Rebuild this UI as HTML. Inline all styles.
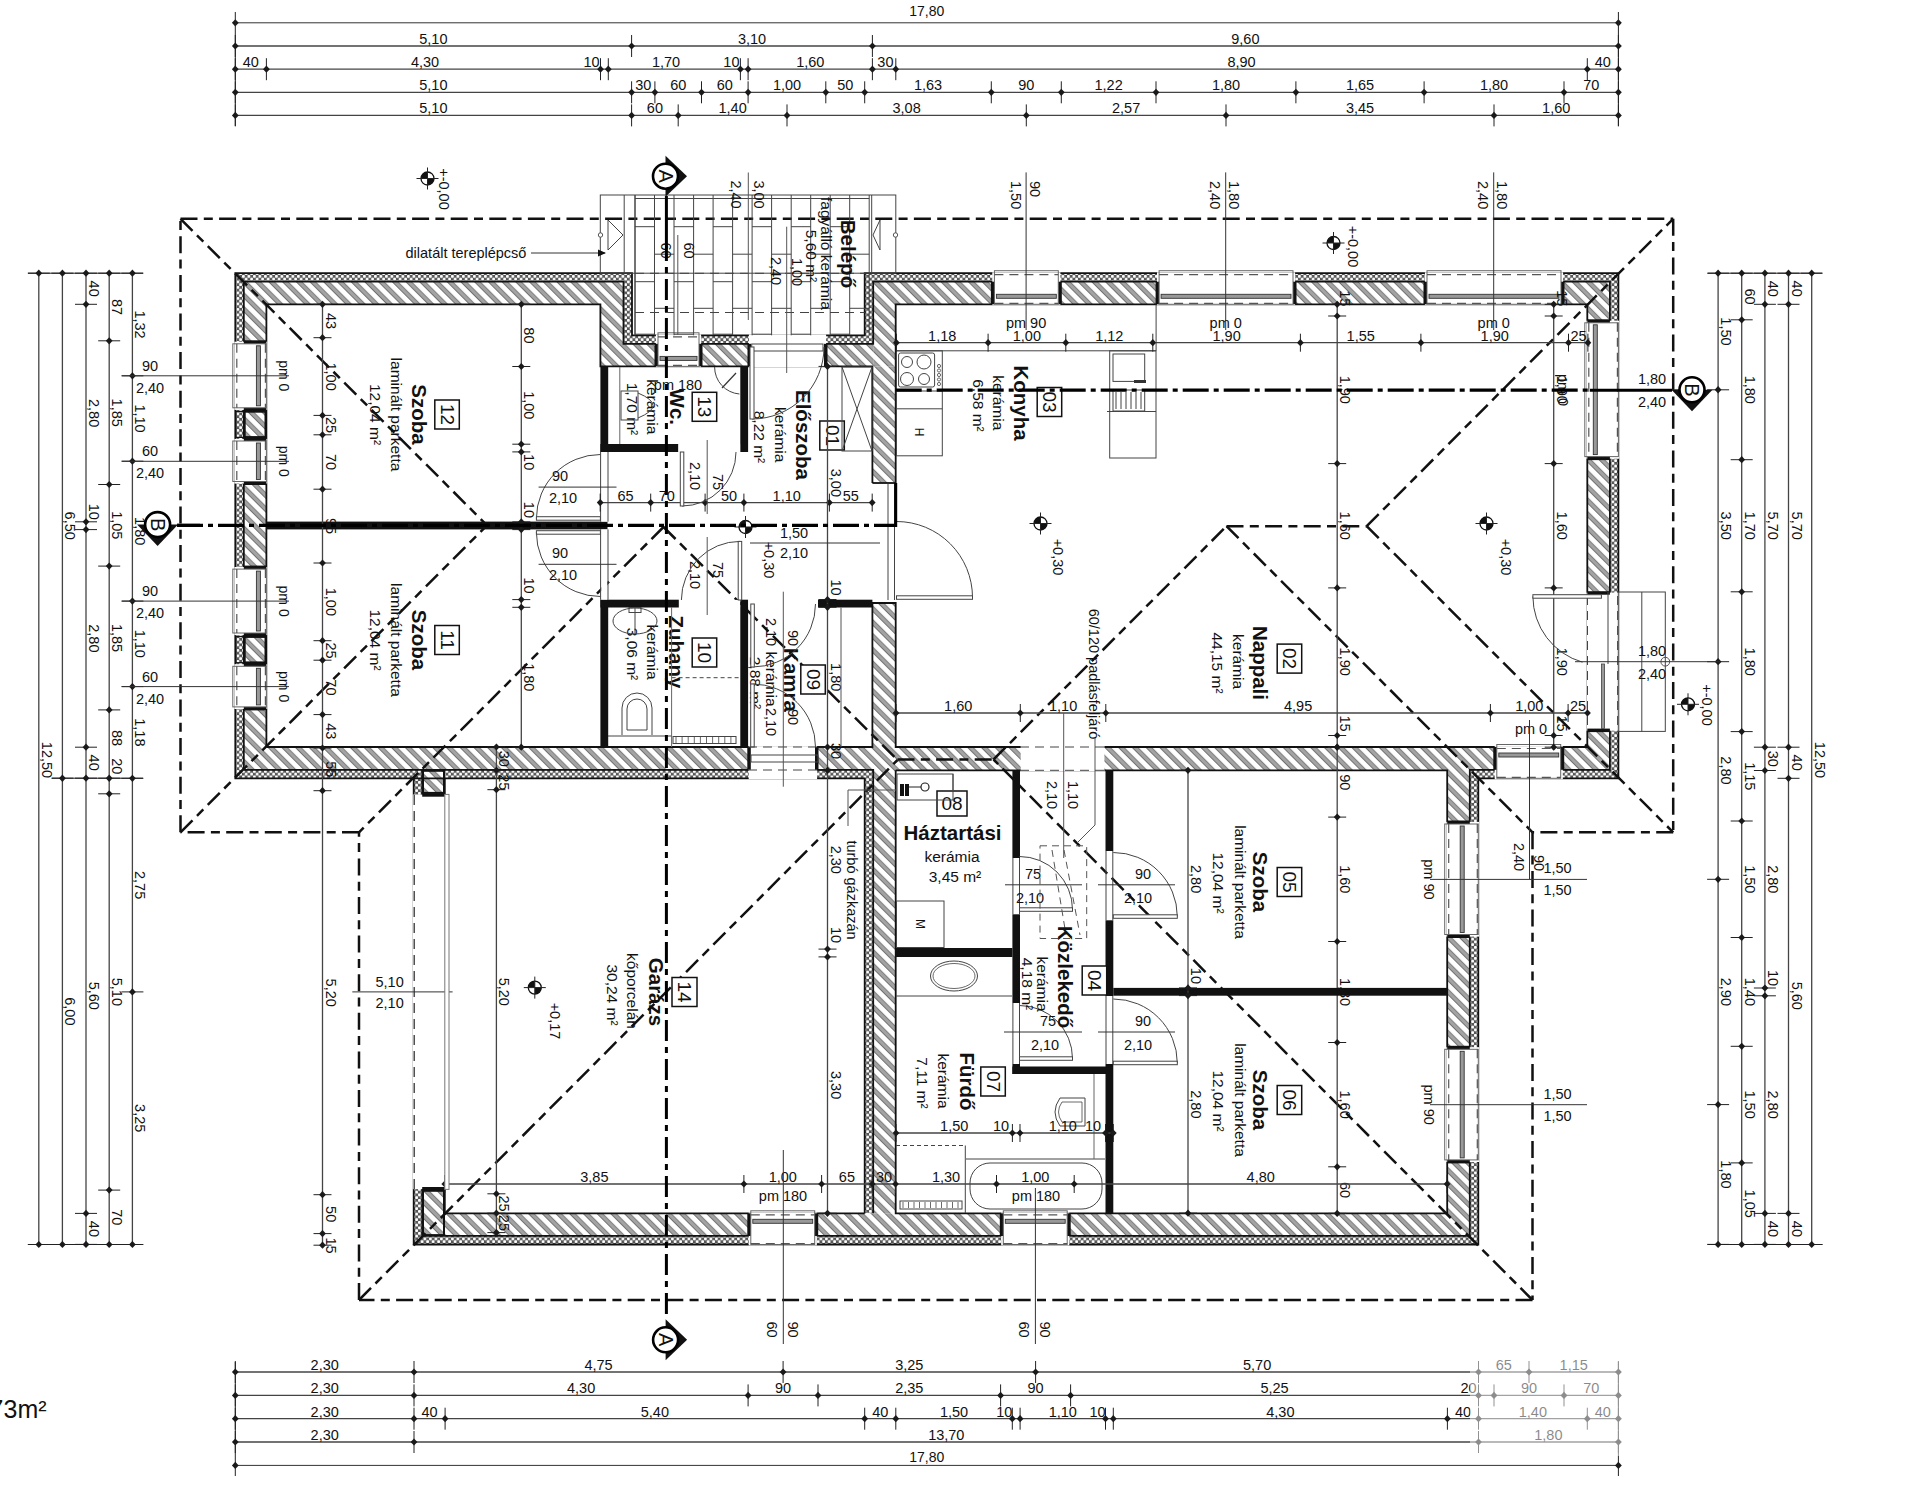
<!DOCTYPE html>
<html><head><meta charset="utf-8"><style>
html,body{margin:0;padding:0;background:#fff;}
svg{display:block;}
text{font-family:"Liberation Sans",sans-serif;}
</style></head><body>
<svg width="1920" height="1499" viewBox="0 0 1920 1499">
<defs>
<pattern id="hatch" patternUnits="userSpaceOnUse" width="9.7" height="9.7" patternTransform="rotate(-45)">
<rect width="9.7" height="9.7" fill="#fff"/><rect x="0" y="0" width="4.9" height="9.7" fill="#a3a3a3"/><rect x="0" y="0" width="0.8" height="9.7" fill="#666"/><rect x="4.1" y="0" width="0.8" height="9.7" fill="#777"/>
</pattern>
<pattern id="ins" patternUnits="userSpaceOnUse" width="5.5" height="5.5">
<rect width="5.5" height="5.5" fill="#555"/><circle cx="1.4" cy="1.4" r="1.5" fill="#fff"/><circle cx="4.1" cy="4.1" r="1.5" fill="#fff"/>
</pattern>
</defs>
<rect width="1920" height="1499" fill="#fff"/>
<line x1="235.3" y1="22.8" x2="1618.4" y2="22.8" stroke="#333" stroke-width="1.0" />
<path d="M231.9,22.8 L235.3,19.2 L238.7,22.8 L235.3,26.4 Z" fill="#1a1a1a"/>
<path d="M1615,22.8 L1618.4,19.2 L1621.8,22.8 L1618.4,26.4 Z" fill="#1a1a1a"/>
<text x="926.8" y="15.8" font-size="14" text-anchor="middle" fill="#111" >17,80</text>
<line x1="235.3" y1="12" x2="235.3" y2="126" stroke="#222" stroke-width="1.0" />
<line x1="1618.4" y1="12" x2="1618.4" y2="126" stroke="#222" stroke-width="1.0" />
<line x1="235.3" y1="46" x2="1618.4" y2="46" stroke="#444" stroke-width="1.3" />
<line x1="235.3" y1="35" x2="235.3" y2="57" stroke="#222" stroke-width="1.0" />
<path d="M231.9,46 L235.3,42.4 L238.7,46 L235.3,49.6 Z" fill="#1a1a1a"/>
<line x1="631.6" y1="35" x2="631.6" y2="57" stroke="#222" stroke-width="1.0" />
<path d="M628.2,46 L631.6,42.4 L635,46 L631.6,49.6 Z" fill="#1a1a1a"/>
<line x1="872.4" y1="35" x2="872.4" y2="57" stroke="#222" stroke-width="1.0" />
<path d="M869,46 L872.4,42.4 L875.8,46 L872.4,49.6 Z" fill="#1a1a1a"/>
<line x1="1618.4" y1="35" x2="1618.4" y2="57" stroke="#222" stroke-width="1.0" />
<path d="M1615,46 L1618.4,42.4 L1621.8,46 L1618.4,49.6 Z" fill="#1a1a1a"/>
<text x="433.4" y="44" font-size="14.5" text-anchor="middle" fill="#111" >5,10</text>
<text x="752" y="44" font-size="14.5" text-anchor="middle" fill="#111" >3,10</text>
<text x="1245.4" y="44" font-size="14.5" text-anchor="middle" fill="#111" >9,60</text>
<line x1="235.3" y1="69.2" x2="1618.4" y2="69.2" stroke="#444" stroke-width="1.3" />
<line x1="235.3" y1="58.2" x2="235.3" y2="80.2" stroke="#222" stroke-width="1.0" />
<path d="M231.9,69.2 L235.3,65.6 L238.7,69.2 L235.3,72.8 Z" fill="#1a1a1a"/>
<line x1="266.4" y1="58.2" x2="266.4" y2="80.2" stroke="#222" stroke-width="1.0" />
<path d="M263,69.2 L266.4,65.6 L269.8,69.2 L266.4,72.8 Z" fill="#1a1a1a"/>
<line x1="600.5" y1="58.2" x2="600.5" y2="80.2" stroke="#222" stroke-width="1.0" />
<path d="M597.1,69.2 L600.5,65.6 L603.9,69.2 L600.5,72.8 Z" fill="#1a1a1a"/>
<line x1="608.3" y1="58.2" x2="608.3" y2="80.2" stroke="#222" stroke-width="1.0" />
<path d="M604.9,69.2 L608.3,65.6 L611.7,69.2 L608.3,72.8 Z" fill="#1a1a1a"/>
<line x1="740.4" y1="58.2" x2="740.4" y2="80.2" stroke="#222" stroke-width="1.0" />
<path d="M737,69.2 L740.4,65.6 L743.8,69.2 L740.4,72.8 Z" fill="#1a1a1a"/>
<line x1="748.1" y1="58.2" x2="748.1" y2="80.2" stroke="#222" stroke-width="1.0" />
<path d="M744.7,69.2 L748.1,65.6 L751.5,69.2 L748.1,72.8 Z" fill="#1a1a1a"/>
<line x1="872.4" y1="58.2" x2="872.4" y2="80.2" stroke="#222" stroke-width="1.0" />
<path d="M869,69.2 L872.4,65.6 L875.8,69.2 L872.4,72.8 Z" fill="#1a1a1a"/>
<line x1="895.8" y1="58.2" x2="895.8" y2="80.2" stroke="#222" stroke-width="1.0" />
<path d="M892.4,69.2 L895.8,65.6 L899.1,69.2 L895.8,72.8 Z" fill="#1a1a1a"/>
<line x1="1587.3" y1="58.2" x2="1587.3" y2="80.2" stroke="#222" stroke-width="1.0" />
<path d="M1583.9,69.2 L1587.3,65.6 L1590.7,69.2 L1587.3,72.8 Z" fill="#1a1a1a"/>
<line x1="1618.4" y1="58.2" x2="1618.4" y2="80.2" stroke="#222" stroke-width="1.0" />
<path d="M1615,69.2 L1618.4,65.6 L1621.8,69.2 L1618.4,72.8 Z" fill="#1a1a1a"/>
<text x="250.8" y="67.2" font-size="14.5" text-anchor="middle" fill="#111" >40</text>
<text x="425" y="67.2" font-size="14.5" text-anchor="middle" fill="#111" >4,30</text>
<text x="591.5" y="67.2" font-size="14.5" text-anchor="middle" fill="#111" >10</text>
<text x="666" y="67.2" font-size="14.5" text-anchor="middle" fill="#111" >1,70</text>
<text x="731.4" y="67.2" font-size="14.5" text-anchor="middle" fill="#111" >10</text>
<text x="810.3" y="67.2" font-size="14.5" text-anchor="middle" fill="#111" >1,60</text>
<text x="885.4" y="67.2" font-size="14.5" text-anchor="middle" fill="#111" >30</text>
<text x="1241.5" y="67.2" font-size="14.5" text-anchor="middle" fill="#111" >8,90</text>
<text x="1602.8" y="67.2" font-size="14.5" text-anchor="middle" fill="#111" >40</text>
<line x1="235.3" y1="92.3" x2="1618.4" y2="92.3" stroke="#444" stroke-width="1.3" />
<line x1="235.3" y1="81.3" x2="235.3" y2="103.3" stroke="#222" stroke-width="1.0" />
<path d="M231.9,92.3 L235.3,88.7 L238.7,92.3 L235.3,95.9 Z" fill="#1a1a1a"/>
<line x1="631.6" y1="81.3" x2="631.6" y2="103.3" stroke="#222" stroke-width="1.0" />
<path d="M628.2,92.3 L631.6,88.7 L635,92.3 L631.6,95.9 Z" fill="#1a1a1a"/>
<line x1="654.9" y1="81.3" x2="654.9" y2="103.3" stroke="#222" stroke-width="1.0" />
<path d="M651.5,92.3 L654.9,88.7 L658.3,92.3 L654.9,95.9 Z" fill="#1a1a1a"/>
<line x1="701.5" y1="81.3" x2="701.5" y2="103.3" stroke="#222" stroke-width="1.0" />
<path d="M698.1,92.3 L701.5,88.7 L704.9,92.3 L701.5,95.9 Z" fill="#1a1a1a"/>
<line x1="748.1" y1="81.3" x2="748.1" y2="103.3" stroke="#222" stroke-width="1.0" />
<path d="M744.7,92.3 L748.1,88.7 L751.5,92.3 L748.1,95.9 Z" fill="#1a1a1a"/>
<line x1="825.8" y1="81.3" x2="825.8" y2="103.3" stroke="#222" stroke-width="1.0" />
<path d="M822.4,92.3 L825.8,88.7 L829.2,92.3 L825.8,95.9 Z" fill="#1a1a1a"/>
<line x1="864.7" y1="81.3" x2="864.7" y2="103.3" stroke="#222" stroke-width="1.0" />
<path d="M861.3,92.3 L864.7,88.7 L868.1,92.3 L864.7,95.9 Z" fill="#1a1a1a"/>
<line x1="991.3" y1="81.3" x2="991.3" y2="103.3" stroke="#222" stroke-width="1.0" />
<path d="M987.9,92.3 L991.3,88.7 L994.7,92.3 L991.3,95.9 Z" fill="#1a1a1a"/>
<line x1="1061.3" y1="81.3" x2="1061.3" y2="103.3" stroke="#222" stroke-width="1.0" />
<path d="M1057.9,92.3 L1061.3,88.7 L1064.7,92.3 L1061.3,95.9 Z" fill="#1a1a1a"/>
<line x1="1156" y1="81.3" x2="1156" y2="103.3" stroke="#222" stroke-width="1.0" />
<path d="M1152.6,92.3 L1156,88.7 L1159.4,92.3 L1156,95.9 Z" fill="#1a1a1a"/>
<line x1="1295.9" y1="81.3" x2="1295.9" y2="103.3" stroke="#222" stroke-width="1.0" />
<path d="M1292.5,92.3 L1295.9,88.7 L1299.3,92.3 L1295.9,95.9 Z" fill="#1a1a1a"/>
<line x1="1424.1" y1="81.3" x2="1424.1" y2="103.3" stroke="#222" stroke-width="1.0" />
<path d="M1420.7,92.3 L1424.1,88.7 L1427.5,92.3 L1424.1,95.9 Z" fill="#1a1a1a"/>
<line x1="1564" y1="81.3" x2="1564" y2="103.3" stroke="#222" stroke-width="1.0" />
<path d="M1560.6,92.3 L1564,88.7 L1567.4,92.3 L1564,95.9 Z" fill="#1a1a1a"/>
<line x1="1618.4" y1="81.3" x2="1618.4" y2="103.3" stroke="#222" stroke-width="1.0" />
<path d="M1615,92.3 L1618.4,88.7 L1621.8,92.3 L1618.4,95.9 Z" fill="#1a1a1a"/>
<text x="433.4" y="90.3" font-size="14.5" text-anchor="middle" fill="#111" >5,10</text>
<text x="643.2" y="90.3" font-size="14.5" text-anchor="middle" fill="#111" >30</text>
<text x="678.2" y="90.3" font-size="14.5" text-anchor="middle" fill="#111" >60</text>
<text x="724.8" y="90.3" font-size="14.5" text-anchor="middle" fill="#111" >60</text>
<text x="787" y="90.3" font-size="14.5" text-anchor="middle" fill="#111" >1,00</text>
<text x="845.2" y="90.3" font-size="14.5" text-anchor="middle" fill="#111" >50</text>
<text x="928" y="90.3" font-size="14.5" text-anchor="middle" fill="#111" >1,63</text>
<text x="1026.3" y="90.3" font-size="14.5" text-anchor="middle" fill="#111" >90</text>
<text x="1108.6" y="90.3" font-size="14.5" text-anchor="middle" fill="#111" >1,22</text>
<text x="1226" y="90.3" font-size="14.5" text-anchor="middle" fill="#111" >1,80</text>
<text x="1360" y="90.3" font-size="14.5" text-anchor="middle" fill="#111" >1,65</text>
<text x="1494" y="90.3" font-size="14.5" text-anchor="middle" fill="#111" >1,80</text>
<text x="1591.2" y="90.3" font-size="14.5" text-anchor="middle" fill="#111" >70</text>
<line x1="235.3" y1="115.4" x2="1618.4" y2="115.4" stroke="#444" stroke-width="1.3" />
<line x1="235.3" y1="104.4" x2="235.3" y2="126.4" stroke="#222" stroke-width="1.0" />
<path d="M231.9,115.4 L235.3,111.8 L238.7,115.4 L235.3,119 Z" fill="#1a1a1a"/>
<line x1="631.6" y1="104.4" x2="631.6" y2="126.4" stroke="#222" stroke-width="1.0" />
<path d="M628.2,115.4 L631.6,111.8 L635,115.4 L631.6,119 Z" fill="#1a1a1a"/>
<line x1="678.2" y1="104.4" x2="678.2" y2="126.4" stroke="#222" stroke-width="1.0" />
<path d="M674.8,115.4 L678.2,111.8 L681.6,115.4 L678.2,119 Z" fill="#1a1a1a"/>
<line x1="787" y1="104.4" x2="787" y2="126.4" stroke="#222" stroke-width="1.0" />
<path d="M783.6,115.4 L787,111.8 L790.4,115.4 L787,119 Z" fill="#1a1a1a"/>
<line x1="1026.3" y1="104.4" x2="1026.3" y2="126.4" stroke="#222" stroke-width="1.0" />
<path d="M1022.9,115.4 L1026.3,111.8 L1029.7,115.4 L1026.3,119 Z" fill="#1a1a1a"/>
<line x1="1226" y1="104.4" x2="1226" y2="126.4" stroke="#222" stroke-width="1.0" />
<path d="M1222.6,115.4 L1226,111.8 L1229.4,115.4 L1226,119 Z" fill="#1a1a1a"/>
<line x1="1494" y1="104.4" x2="1494" y2="126.4" stroke="#222" stroke-width="1.0" />
<path d="M1490.6,115.4 L1494,111.8 L1497.4,115.4 L1494,119 Z" fill="#1a1a1a"/>
<line x1="1618.4" y1="104.4" x2="1618.4" y2="126.4" stroke="#222" stroke-width="1.0" />
<path d="M1615,115.4 L1618.4,111.8 L1621.8,115.4 L1618.4,119 Z" fill="#1a1a1a"/>
<text x="433.4" y="113.4" font-size="14.5" text-anchor="middle" fill="#111" >5,10</text>
<text x="654.9" y="113.4" font-size="14.5" text-anchor="middle" fill="#111" >60</text>
<text x="732.6" y="113.4" font-size="14.5" text-anchor="middle" fill="#111" >1,40</text>
<text x="906.6" y="113.4" font-size="14.5" text-anchor="middle" fill="#111" >3,08</text>
<text x="1126.1" y="113.4" font-size="14.5" text-anchor="middle" fill="#111" >2,57</text>
<text x="1360" y="113.4" font-size="14.5" text-anchor="middle" fill="#111" >3,45</text>
<text x="1556.2" y="113.4" font-size="14.5" text-anchor="middle" fill="#111" >1,60</text>
<line x1="235.3" y1="1362" x2="235.3" y2="1476" stroke="#222" stroke-width="1.0" />
<line x1="1618.4" y1="1362" x2="1618.4" y2="1476" stroke="#222" stroke-width="1.0" />
<line x1="235.3" y1="1372" x2="1618.4" y2="1372" stroke="#444" stroke-width="1.3" />
<line x1="235.3" y1="1361" x2="235.3" y2="1383" stroke="#222" stroke-width="1.0" />
<path d="M231.9,1372 L235.3,1368.4 L238.7,1372 L235.3,1375.6 Z" fill="#1a1a1a"/>
<line x1="414" y1="1361" x2="414" y2="1383" stroke="#222" stroke-width="1.0" />
<path d="M410.6,1372 L414,1368.4 L417.4,1372 L414,1375.6 Z" fill="#1a1a1a"/>
<line x1="783.1" y1="1361" x2="783.1" y2="1383" stroke="#222" stroke-width="1.0" />
<path d="M779.7,1372 L783.1,1368.4 L786.5,1372 L783.1,1375.6 Z" fill="#1a1a1a"/>
<line x1="1035.6" y1="1361" x2="1035.6" y2="1383" stroke="#222" stroke-width="1.0" />
<path d="M1032.2,1372 L1035.6,1368.4 L1039,1372 L1035.6,1375.6 Z" fill="#1a1a1a"/>
<line x1="1478.5" y1="1361" x2="1478.5" y2="1383" stroke="#222" stroke-width="1.0" />
<path d="M1475.1,1372 L1478.5,1368.4 L1481.9,1372 L1478.5,1375.6 Z" fill="#1a1a1a"/>
<line x1="1529" y1="1361" x2="1529" y2="1383" stroke="#222" stroke-width="1.0" />
<path d="M1525.6,1372 L1529,1368.4 L1532.4,1372 L1529,1375.6 Z" fill="#1a1a1a"/>
<line x1="1618.4" y1="1361" x2="1618.4" y2="1383" stroke="#222" stroke-width="1.0" />
<path d="M1615,1372 L1618.4,1368.4 L1621.8,1372 L1618.4,1375.6 Z" fill="#1a1a1a"/>
<text x="324.7" y="1370" font-size="14.5" text-anchor="middle" fill="#111" >2,30</text>
<text x="598.5" y="1370" font-size="14.5" text-anchor="middle" fill="#111" >4,75</text>
<text x="909.3" y="1370" font-size="14.5" text-anchor="middle" fill="#111" >3,25</text>
<text x="1257.1" y="1370" font-size="14.5" text-anchor="middle" fill="#111" >5,70</text>
<text x="1503.8" y="1370" font-size="14.5" text-anchor="middle" fill="#111" >65</text>
<text x="1573.7" y="1370" font-size="14.5" text-anchor="middle" fill="#111" >1,15</text>
<line x1="235.3" y1="1395.4" x2="1618.4" y2="1395.4" stroke="#444" stroke-width="1.3" />
<line x1="235.3" y1="1384.4" x2="235.3" y2="1406.4" stroke="#222" stroke-width="1.0" />
<path d="M231.9,1395.4 L235.3,1391.8 L238.7,1395.4 L235.3,1399 Z" fill="#1a1a1a"/>
<line x1="414" y1="1384.4" x2="414" y2="1406.4" stroke="#222" stroke-width="1.0" />
<path d="M410.6,1395.4 L414,1391.8 L417.4,1395.4 L414,1399 Z" fill="#1a1a1a"/>
<line x1="748.1" y1="1384.4" x2="748.1" y2="1406.4" stroke="#222" stroke-width="1.0" />
<path d="M744.7,1395.4 L748.1,1391.8 L751.5,1395.4 L748.1,1399 Z" fill="#1a1a1a"/>
<line x1="818" y1="1384.4" x2="818" y2="1406.4" stroke="#222" stroke-width="1.0" />
<path d="M814.6,1395.4 L818,1391.8 L821.4,1395.4 L818,1399 Z" fill="#1a1a1a"/>
<line x1="1000.6" y1="1384.4" x2="1000.6" y2="1406.4" stroke="#222" stroke-width="1.0" />
<path d="M997.2,1395.4 L1000.6,1391.8 L1004,1395.4 L1000.6,1399 Z" fill="#1a1a1a"/>
<line x1="1070.6" y1="1384.4" x2="1070.6" y2="1406.4" stroke="#222" stroke-width="1.0" />
<path d="M1067.2,1395.4 L1070.6,1391.8 L1074,1395.4 L1070.6,1399 Z" fill="#1a1a1a"/>
<line x1="1478.5" y1="1384.4" x2="1478.5" y2="1406.4" stroke="#222" stroke-width="1.0" />
<path d="M1475.1,1395.4 L1478.5,1391.8 L1481.9,1395.4 L1478.5,1399 Z" fill="#1a1a1a"/>
<line x1="1494" y1="1384.4" x2="1494" y2="1406.4" stroke="#222" stroke-width="1.0" />
<path d="M1490.6,1395.4 L1494,1391.8 L1497.4,1395.4 L1494,1399 Z" fill="#1a1a1a"/>
<line x1="1564" y1="1384.4" x2="1564" y2="1406.4" stroke="#222" stroke-width="1.0" />
<path d="M1560.6,1395.4 L1564,1391.8 L1567.4,1395.4 L1564,1399 Z" fill="#1a1a1a"/>
<line x1="1618.4" y1="1384.4" x2="1618.4" y2="1406.4" stroke="#222" stroke-width="1.0" />
<path d="M1615,1395.4 L1618.4,1391.8 L1621.8,1395.4 L1618.4,1399 Z" fill="#1a1a1a"/>
<text x="324.7" y="1393.4" font-size="14.5" text-anchor="middle" fill="#111" >2,30</text>
<text x="581.1" y="1393.4" font-size="14.5" text-anchor="middle" fill="#111" >4,30</text>
<text x="783.1" y="1393.4" font-size="14.5" text-anchor="middle" fill="#111" >90</text>
<text x="909.3" y="1393.4" font-size="14.5" text-anchor="middle" fill="#111" >2,35</text>
<text x="1035.6" y="1393.4" font-size="14.5" text-anchor="middle" fill="#111" >90</text>
<text x="1274.5" y="1393.4" font-size="14.5" text-anchor="middle" fill="#111" >5,25</text>
<text x="1468.5" y="1393.4" font-size="14.5" text-anchor="middle" fill="#111" >20</text>
<text x="1529" y="1393.4" font-size="14.5" text-anchor="middle" fill="#111" >90</text>
<text x="1591.2" y="1393.4" font-size="14.5" text-anchor="middle" fill="#111" >70</text>
<line x1="235.3" y1="1418.7" x2="1618.4" y2="1418.7" stroke="#444" stroke-width="1.3" />
<line x1="235.3" y1="1407.7" x2="235.3" y2="1429.7" stroke="#222" stroke-width="1.0" />
<path d="M231.9,1418.7 L235.3,1415.1 L238.7,1418.7 L235.3,1422.3 Z" fill="#1a1a1a"/>
<line x1="414" y1="1407.7" x2="414" y2="1429.7" stroke="#222" stroke-width="1.0" />
<path d="M410.6,1418.7 L414,1415.1 L417.4,1418.7 L414,1422.3 Z" fill="#1a1a1a"/>
<line x1="445.1" y1="1407.7" x2="445.1" y2="1429.7" stroke="#222" stroke-width="1.0" />
<path d="M441.7,1418.7 L445.1,1415.1 L448.5,1418.7 L445.1,1422.3 Z" fill="#1a1a1a"/>
<line x1="864.7" y1="1407.7" x2="864.7" y2="1429.7" stroke="#222" stroke-width="1.0" />
<path d="M861.3,1418.7 L864.7,1415.1 L868.1,1418.7 L864.7,1422.3 Z" fill="#1a1a1a"/>
<line x1="895.8" y1="1407.7" x2="895.8" y2="1429.7" stroke="#222" stroke-width="1.0" />
<path d="M892.4,1418.7 L895.8,1415.1 L899.2,1418.7 L895.8,1422.3 Z" fill="#1a1a1a"/>
<line x1="1012.3" y1="1407.7" x2="1012.3" y2="1429.7" stroke="#222" stroke-width="1.0" />
<path d="M1008.9,1418.7 L1012.3,1415.1 L1015.7,1418.7 L1012.3,1422.3 Z" fill="#1a1a1a"/>
<line x1="1020.1" y1="1407.7" x2="1020.1" y2="1429.7" stroke="#222" stroke-width="1.0" />
<path d="M1016.7,1418.7 L1020.1,1415.1 L1023.5,1418.7 L1020.1,1422.3 Z" fill="#1a1a1a"/>
<line x1="1105.5" y1="1407.7" x2="1105.5" y2="1429.7" stroke="#222" stroke-width="1.0" />
<path d="M1102.1,1418.7 L1105.5,1415.1 L1108.9,1418.7 L1105.5,1422.3 Z" fill="#1a1a1a"/>
<line x1="1113.3" y1="1407.7" x2="1113.3" y2="1429.7" stroke="#222" stroke-width="1.0" />
<path d="M1109.9,1418.7 L1113.3,1415.1 L1116.7,1418.7 L1113.3,1422.3 Z" fill="#1a1a1a"/>
<line x1="1447.4" y1="1407.7" x2="1447.4" y2="1429.7" stroke="#222" stroke-width="1.0" />
<path d="M1444,1418.7 L1447.4,1415.1 L1450.8,1418.7 L1447.4,1422.3 Z" fill="#1a1a1a"/>
<line x1="1478.5" y1="1407.7" x2="1478.5" y2="1429.7" stroke="#222" stroke-width="1.0" />
<path d="M1475.1,1418.7 L1478.5,1415.1 L1481.9,1418.7 L1478.5,1422.3 Z" fill="#1a1a1a"/>
<line x1="1587.3" y1="1407.7" x2="1587.3" y2="1429.7" stroke="#222" stroke-width="1.0" />
<path d="M1583.9,1418.7 L1587.3,1415.1 L1590.7,1418.7 L1587.3,1422.3 Z" fill="#1a1a1a"/>
<line x1="1618.4" y1="1407.7" x2="1618.4" y2="1429.7" stroke="#222" stroke-width="1.0" />
<path d="M1615,1418.7 L1618.4,1415.1 L1621.8,1418.7 L1618.4,1422.3 Z" fill="#1a1a1a"/>
<text x="324.7" y="1416.7" font-size="14.5" text-anchor="middle" fill="#111" >2,30</text>
<text x="429.5" y="1416.7" font-size="14.5" text-anchor="middle" fill="#111" >40</text>
<text x="654.9" y="1416.7" font-size="14.5" text-anchor="middle" fill="#111" >5,40</text>
<text x="880.2" y="1416.7" font-size="14.5" text-anchor="middle" fill="#111" >40</text>
<text x="954" y="1416.7" font-size="14.5" text-anchor="middle" fill="#111" >1,50</text>
<text x="1004.3" y="1416.7" font-size="14.5" text-anchor="middle" fill="#111" >10</text>
<text x="1062.8" y="1416.7" font-size="14.5" text-anchor="middle" fill="#111" >1,10</text>
<text x="1097.5" y="1416.7" font-size="14.5" text-anchor="middle" fill="#111" >10</text>
<text x="1280.4" y="1416.7" font-size="14.5" text-anchor="middle" fill="#111" >4,30</text>
<text x="1463" y="1416.7" font-size="14.5" text-anchor="middle" fill="#111" >40</text>
<text x="1532.9" y="1416.7" font-size="14.5" text-anchor="middle" fill="#111" >1,40</text>
<text x="1602.8" y="1416.7" font-size="14.5" text-anchor="middle" fill="#111" >40</text>
<line x1="235.3" y1="1442" x2="1618.4" y2="1442" stroke="#444" stroke-width="1.3" />
<line x1="235.3" y1="1431" x2="235.3" y2="1453" stroke="#222" stroke-width="1.0" />
<path d="M231.9,1442 L235.3,1438.4 L238.7,1442 L235.3,1445.6 Z" fill="#1a1a1a"/>
<line x1="414" y1="1431" x2="414" y2="1453" stroke="#222" stroke-width="1.0" />
<path d="M410.6,1442 L414,1438.4 L417.4,1442 L414,1445.6 Z" fill="#1a1a1a"/>
<line x1="1478.5" y1="1431" x2="1478.5" y2="1453" stroke="#222" stroke-width="1.0" />
<path d="M1475.1,1442 L1478.5,1438.4 L1481.9,1442 L1478.5,1445.6 Z" fill="#1a1a1a"/>
<line x1="1618.4" y1="1431" x2="1618.4" y2="1453" stroke="#222" stroke-width="1.0" />
<path d="M1615,1442 L1618.4,1438.4 L1621.8,1442 L1618.4,1445.6 Z" fill="#1a1a1a"/>
<text x="324.7" y="1440" font-size="14.5" text-anchor="middle" fill="#111" >2,30</text>
<text x="946.3" y="1440" font-size="14.5" text-anchor="middle" fill="#111" >13,70</text>
<text x="1548.4" y="1440" font-size="14.5" text-anchor="middle" fill="#111" >1,80</text>
<line x1="235.3" y1="1465.4" x2="1618.4" y2="1465.4" stroke="#333" stroke-width="1.0" />
<path d="M231.9,1465.4 L235.3,1461.8 L238.7,1465.4 L235.3,1469 Z" fill="#1a1a1a"/>
<path d="M1615,1465.4 L1618.4,1461.8 L1621.8,1465.4 L1618.4,1469 Z" fill="#1a1a1a"/>
<text x="926.8" y="1462.4" font-size="14" text-anchor="middle" fill="#111" >17,80</text>
<line x1="28" y1="273.2" x2="143" y2="273.2" stroke="#222" stroke-width="1.0" />
<line x1="28" y1="1244.5" x2="143" y2="1244.5" stroke="#222" stroke-width="1.0" />
<line x1="52" y1="778.2" x2="143" y2="778.2" stroke="#222" stroke-width="1.0" />
<line x1="38.8" y1="273.2" x2="38.8" y2="1244.5" stroke="#444" stroke-width="1.3" />
<line x1="27.8" y1="273.2" x2="49.8" y2="273.2" stroke="#222" stroke-width="1.0" />
<path d="M35.4,273.2 L38.8,269.6 L42.2,273.2 L38.8,276.8 Z" fill="#1a1a1a"/>
<line x1="27.8" y1="1244.5" x2="49.8" y2="1244.5" stroke="#222" stroke-width="1.0" />
<path d="M35.4,1244.5 L38.8,1240.9 L42.2,1244.5 L38.8,1248 Z" fill="#1a1a1a"/>
<text x="41.8" y="760" font-size="14.5" text-anchor="middle" fill="#111" transform="rotate(90 41.8 760)" >12,50</text>
<line x1="62.4" y1="273.2" x2="62.4" y2="1244.5" stroke="#444" stroke-width="1.3" />
<line x1="51.4" y1="273.2" x2="73.4" y2="273.2" stroke="#222" stroke-width="1.0" />
<path d="M59,273.2 L62.4,269.6 L65.8,273.2 L62.4,276.8 Z" fill="#1a1a1a"/>
<line x1="51.4" y1="778.2" x2="73.4" y2="778.2" stroke="#222" stroke-width="1.0" />
<path d="M59,778.2 L62.4,774.6 L65.8,778.2 L62.4,781.9 Z" fill="#1a1a1a"/>
<line x1="51.4" y1="1244.5" x2="73.4" y2="1244.5" stroke="#222" stroke-width="1.0" />
<path d="M59,1244.5 L62.4,1240.9 L65.8,1244.5 L62.4,1248 Z" fill="#1a1a1a"/>
<text x="65.4" y="525.7" font-size="14.5" text-anchor="middle" fill="#111" transform="rotate(90 65.4 525.7)" >6,50</text>
<text x="65.4" y="1011.4" font-size="14.5" text-anchor="middle" fill="#111" transform="rotate(90 65.4 1011.4)" >6,00</text>
<line x1="86" y1="273.2" x2="86" y2="1244.4" stroke="#444" stroke-width="1.3" />
<line x1="75" y1="273.2" x2="97" y2="273.2" stroke="#222" stroke-width="1.0" />
<path d="M82.6,273.2 L86,269.6 L89.4,273.2 L86,276.8 Z" fill="#1a1a1a"/>
<line x1="75" y1="304.3" x2="97" y2="304.3" stroke="#222" stroke-width="1.0" />
<path d="M82.6,304.3 L86,300.7 L89.4,304.3 L86,307.9 Z" fill="#1a1a1a"/>
<line x1="75" y1="521.8" x2="97" y2="521.8" stroke="#222" stroke-width="1.0" />
<path d="M82.6,521.8 L86,518.2 L89.4,521.8 L86,525.4 Z" fill="#1a1a1a"/>
<line x1="75" y1="529.6" x2="97" y2="529.6" stroke="#222" stroke-width="1.0" />
<path d="M82.6,529.6 L86,526 L89.4,529.6 L86,533.2 Z" fill="#1a1a1a"/>
<line x1="75" y1="747.2" x2="97" y2="747.2" stroke="#222" stroke-width="1.0" />
<path d="M82.6,747.2 L86,743.6 L89.4,747.2 L86,750.8 Z" fill="#1a1a1a"/>
<line x1="75" y1="778.2" x2="97" y2="778.2" stroke="#222" stroke-width="1.0" />
<path d="M82.6,778.2 L86,774.6 L89.4,778.2 L86,781.8 Z" fill="#1a1a1a"/>
<line x1="75" y1="1213.4" x2="97" y2="1213.4" stroke="#222" stroke-width="1.0" />
<path d="M82.6,1213.4 L86,1209.8 L89.4,1213.4 L86,1217 Z" fill="#1a1a1a"/>
<line x1="75" y1="1244.4" x2="97" y2="1244.4" stroke="#222" stroke-width="1.0" />
<path d="M82.6,1244.4 L86,1240.8 L89.4,1244.4 L86,1248 Z" fill="#1a1a1a"/>
<text x="89" y="288.7" font-size="14.5" text-anchor="middle" fill="#111" transform="rotate(90 89 288.7)" >40</text>
<text x="89" y="413.1" font-size="14.5" text-anchor="middle" fill="#111" transform="rotate(90 89 413.1)" >2,80</text>
<text x="89" y="511.8" font-size="14.5" text-anchor="middle" fill="#111" transform="rotate(90 89 511.8)" >10</text>
<text x="89" y="638.4" font-size="14.5" text-anchor="middle" fill="#111" transform="rotate(90 89 638.4)" >2,80</text>
<text x="89" y="762.7" font-size="14.5" text-anchor="middle" fill="#111" transform="rotate(90 89 762.7)" >40</text>
<text x="89" y="995.8" font-size="14.5" text-anchor="middle" fill="#111" transform="rotate(90 89 995.8)" >5,60</text>
<text x="89" y="1228.9" font-size="14.5" text-anchor="middle" fill="#111" transform="rotate(90 89 1228.9)" >40</text>
<line x1="109.2" y1="273.2" x2="109.2" y2="1244.5" stroke="#444" stroke-width="1.3" />
<line x1="98.2" y1="273.2" x2="120.2" y2="273.2" stroke="#222" stroke-width="1.0" />
<path d="M105.8,273.2 L109.2,269.6 L112.6,273.2 L109.2,276.8 Z" fill="#1a1a1a"/>
<line x1="98.2" y1="340.8" x2="120.2" y2="340.8" stroke="#222" stroke-width="1.0" />
<path d="M105.8,340.8 L109.2,337.2 L112.6,340.8 L109.2,344.4 Z" fill="#1a1a1a"/>
<line x1="98.2" y1="484.5" x2="120.2" y2="484.5" stroke="#222" stroke-width="1.0" />
<path d="M105.8,484.5 L109.2,480.9 L112.6,484.5 L109.2,488.1 Z" fill="#1a1a1a"/>
<line x1="98.2" y1="566.1" x2="120.2" y2="566.1" stroke="#222" stroke-width="1.0" />
<path d="M105.8,566.1 L109.2,562.5 L112.6,566.1 L109.2,569.7 Z" fill="#1a1a1a"/>
<line x1="98.2" y1="709.9" x2="120.2" y2="709.9" stroke="#222" stroke-width="1.0" />
<path d="M105.8,709.9 L109.2,706.3 L112.6,709.9 L109.2,713.5 Z" fill="#1a1a1a"/>
<line x1="98.2" y1="778.2" x2="120.2" y2="778.2" stroke="#222" stroke-width="1.0" />
<path d="M105.8,778.2 L109.2,774.6 L112.6,778.2 L109.2,781.9 Z" fill="#1a1a1a"/>
<line x1="98.2" y1="793.8" x2="120.2" y2="793.8" stroke="#222" stroke-width="1.0" />
<path d="M105.8,793.8 L109.2,790.2 L112.6,793.8 L109.2,797.4 Z" fill="#1a1a1a"/>
<line x1="98.2" y1="1190.1" x2="120.2" y2="1190.1" stroke="#222" stroke-width="1.0" />
<path d="M105.8,1190.1 L109.2,1186.5 L112.6,1190.1 L109.2,1193.7 Z" fill="#1a1a1a"/>
<line x1="98.2" y1="1244.5" x2="120.2" y2="1244.5" stroke="#222" stroke-width="1.0" />
<path d="M105.8,1244.5 L109.2,1240.9 L112.6,1244.5 L109.2,1248 Z" fill="#1a1a1a"/>
<text x="112.2" y="307" font-size="14.5" text-anchor="middle" fill="#111" transform="rotate(90 112.2 307)" >87</text>
<text x="112.2" y="412.7" font-size="14.5" text-anchor="middle" fill="#111" transform="rotate(90 112.2 412.7)" >1,85</text>
<text x="112.2" y="525.3" font-size="14.5" text-anchor="middle" fill="#111" transform="rotate(90 112.2 525.3)" >1,05</text>
<text x="112.2" y="638" font-size="14.5" text-anchor="middle" fill="#111" transform="rotate(90 112.2 638)" >1,85</text>
<text x="112.2" y="738.1" font-size="14.5" text-anchor="middle" fill="#111" transform="rotate(90 112.2 738.1)" >88</text>
<text x="112.2" y="766.2" font-size="14.5" text-anchor="middle" fill="#111" transform="rotate(90 112.2 766.2)" >20</text>
<text x="112.2" y="991.9" font-size="14.5" text-anchor="middle" fill="#111" transform="rotate(90 112.2 991.9)" >5,10</text>
<text x="112.2" y="1217.3" font-size="14.5" text-anchor="middle" fill="#111" transform="rotate(90 112.2 1217.3)" >70</text>
<line x1="132.4" y1="273.2" x2="132.4" y2="1244.5" stroke="#444" stroke-width="1.3" />
<line x1="121.4" y1="273.2" x2="143.4" y2="273.2" stroke="#222" stroke-width="1.0" />
<path d="M129,273.2 L132.4,269.6 L135.8,273.2 L132.4,276.8 Z" fill="#1a1a1a"/>
<line x1="121.4" y1="375.8" x2="143.4" y2="375.8" stroke="#222" stroke-width="1.0" />
<path d="M129,375.8 L132.4,372.2 L135.8,375.8 L132.4,379.4 Z" fill="#1a1a1a"/>
<line x1="121.4" y1="461.2" x2="143.4" y2="461.2" stroke="#222" stroke-width="1.0" />
<path d="M129,461.2 L132.4,457.6 L135.8,461.2 L132.4,464.8 Z" fill="#1a1a1a"/>
<line x1="121.4" y1="601.1" x2="143.4" y2="601.1" stroke="#222" stroke-width="1.0" />
<path d="M129,601.1 L132.4,597.5 L135.8,601.1 L132.4,604.7 Z" fill="#1a1a1a"/>
<line x1="121.4" y1="686.6" x2="143.4" y2="686.6" stroke="#222" stroke-width="1.0" />
<path d="M129,686.6 L132.4,683 L135.8,686.6 L132.4,690.2 Z" fill="#1a1a1a"/>
<line x1="121.4" y1="778.3" x2="143.4" y2="778.3" stroke="#222" stroke-width="1.0" />
<path d="M129,778.3 L132.4,774.7 L135.8,778.3 L132.4,781.9 Z" fill="#1a1a1a"/>
<line x1="121.4" y1="991.9" x2="143.4" y2="991.9" stroke="#222" stroke-width="1.0" />
<path d="M129,991.9 L132.4,988.3 L135.8,991.9 L132.4,995.5 Z" fill="#1a1a1a"/>
<line x1="121.4" y1="1244.5" x2="143.4" y2="1244.5" stroke="#222" stroke-width="1.0" />
<path d="M129,1244.5 L132.4,1240.9 L135.8,1244.5 L132.4,1248.1 Z" fill="#1a1a1a"/>
<text x="135.4" y="324.5" font-size="14.5" text-anchor="middle" fill="#111" transform="rotate(90 135.4 324.5)" >1,32</text>
<text x="135.4" y="418.5" font-size="14.5" text-anchor="middle" fill="#111" transform="rotate(90 135.4 418.5)" >1,10</text>
<text x="135.4" y="531.2" font-size="14.5" text-anchor="middle" fill="#111" transform="rotate(90 135.4 531.2)" >1,80</text>
<text x="135.4" y="643.8" font-size="14.5" text-anchor="middle" fill="#111" transform="rotate(90 135.4 643.8)" >1,10</text>
<text x="135.4" y="732.4" font-size="14.5" text-anchor="middle" fill="#111" transform="rotate(90 135.4 732.4)" >1,18</text>
<text x="135.4" y="885.1" font-size="14.5" text-anchor="middle" fill="#111" transform="rotate(90 135.4 885.1)" >2,75</text>
<text x="135.4" y="1118.2" font-size="14.5" text-anchor="middle" fill="#111" transform="rotate(90 135.4 1118.2)" >3,25</text>
<line x1="1708" y1="273.2" x2="1822" y2="273.2" stroke="#222" stroke-width="1.0" />
<line x1="1708" y1="1244.5" x2="1822" y2="1244.5" stroke="#222" stroke-width="1.0" />
<line x1="1718.1" y1="273.2" x2="1718.1" y2="1244.4" stroke="#444" stroke-width="1.3" />
<line x1="1707.1" y1="273.2" x2="1729.1" y2="273.2" stroke="#222" stroke-width="1.0" />
<path d="M1714.7,273.2 L1718.1,269.6 L1721.5,273.2 L1718.1,276.8 Z" fill="#1a1a1a"/>
<line x1="1707.1" y1="389.8" x2="1729.1" y2="389.8" stroke="#222" stroke-width="1.0" />
<path d="M1714.7,389.8 L1718.1,386.1 L1721.5,389.8 L1718.1,393.4 Z" fill="#1a1a1a"/>
<line x1="1707.1" y1="661.7" x2="1729.1" y2="661.7" stroke="#222" stroke-width="1.0" />
<path d="M1714.7,661.7 L1718.1,658.1 L1721.5,661.7 L1718.1,665.3 Z" fill="#1a1a1a"/>
<line x1="1707.1" y1="879.3" x2="1729.1" y2="879.3" stroke="#222" stroke-width="1.0" />
<path d="M1714.7,879.3 L1718.1,875.7 L1721.5,879.3 L1718.1,882.9 Z" fill="#1a1a1a"/>
<line x1="1707.1" y1="1104.6" x2="1729.1" y2="1104.6" stroke="#222" stroke-width="1.0" />
<path d="M1714.7,1104.6 L1718.1,1101 L1721.5,1104.6 L1718.1,1108.2 Z" fill="#1a1a1a"/>
<line x1="1707.1" y1="1244.4" x2="1729.1" y2="1244.4" stroke="#222" stroke-width="1.0" />
<path d="M1714.7,1244.4 L1718.1,1240.8 L1721.5,1244.4 L1718.1,1248 Z" fill="#1a1a1a"/>
<text x="1721.1" y="331.5" font-size="14.5" text-anchor="middle" fill="#111" transform="rotate(90 1721.1 331.5)" >1,50</text>
<text x="1721.1" y="525.7" font-size="14.5" text-anchor="middle" fill="#111" transform="rotate(90 1721.1 525.7)" >3,50</text>
<text x="1721.1" y="770.5" font-size="14.5" text-anchor="middle" fill="#111" transform="rotate(90 1721.1 770.5)" >2,80</text>
<text x="1721.1" y="991.9" font-size="14.5" text-anchor="middle" fill="#111" transform="rotate(90 1721.1 991.9)" >2,90</text>
<text x="1721.1" y="1174.5" font-size="14.5" text-anchor="middle" fill="#111" transform="rotate(90 1721.1 1174.5)" >1,80</text>
<line x1="1741.7" y1="273.2" x2="1741.7" y2="1244.5" stroke="#444" stroke-width="1.3" />
<line x1="1730.7" y1="273.2" x2="1752.7" y2="273.2" stroke="#222" stroke-width="1.0" />
<path d="M1738.3,273.2 L1741.7,269.6 L1745.1,273.2 L1741.7,276.8 Z" fill="#1a1a1a"/>
<line x1="1730.7" y1="319.8" x2="1752.7" y2="319.8" stroke="#222" stroke-width="1.0" />
<path d="M1738.3,319.8 L1741.7,316.2 L1745.1,319.8 L1741.7,323.4 Z" fill="#1a1a1a"/>
<line x1="1730.7" y1="459.7" x2="1752.7" y2="459.7" stroke="#222" stroke-width="1.0" />
<path d="M1738.3,459.7 L1741.7,456.1 L1745.1,459.7 L1741.7,463.3 Z" fill="#1a1a1a"/>
<line x1="1730.7" y1="591.8" x2="1752.7" y2="591.8" stroke="#222" stroke-width="1.0" />
<path d="M1738.3,591.8 L1741.7,588.2 L1745.1,591.8 L1741.7,595.4 Z" fill="#1a1a1a"/>
<line x1="1730.7" y1="731.6" x2="1752.7" y2="731.6" stroke="#222" stroke-width="1.0" />
<path d="M1738.3,731.6 L1741.7,728 L1745.1,731.6 L1741.7,735.2 Z" fill="#1a1a1a"/>
<line x1="1730.7" y1="821" x2="1752.7" y2="821" stroke="#222" stroke-width="1.0" />
<path d="M1738.3,821 L1741.7,817.4 L1745.1,821 L1741.7,824.6 Z" fill="#1a1a1a"/>
<line x1="1730.7" y1="937.5" x2="1752.7" y2="937.5" stroke="#222" stroke-width="1.0" />
<path d="M1738.3,937.5 L1741.7,933.9 L1745.1,937.5 L1741.7,941.1 Z" fill="#1a1a1a"/>
<line x1="1730.7" y1="1046.3" x2="1752.7" y2="1046.3" stroke="#222" stroke-width="1.0" />
<path d="M1738.3,1046.3 L1741.7,1042.7 L1745.1,1046.3 L1741.7,1049.9 Z" fill="#1a1a1a"/>
<line x1="1730.7" y1="1162.9" x2="1752.7" y2="1162.9" stroke="#222" stroke-width="1.0" />
<path d="M1738.3,1162.9 L1741.7,1159.3 L1745.1,1162.9 L1741.7,1166.5 Z" fill="#1a1a1a"/>
<line x1="1730.7" y1="1244.5" x2="1752.7" y2="1244.5" stroke="#222" stroke-width="1.0" />
<path d="M1738.3,1244.5 L1741.7,1240.9 L1745.1,1244.5 L1741.7,1248 Z" fill="#1a1a1a"/>
<text x="1744.7" y="296.5" font-size="14.5" text-anchor="middle" fill="#111" transform="rotate(90 1744.7 296.5)" >60</text>
<text x="1744.7" y="389.8" font-size="14.5" text-anchor="middle" fill="#111" transform="rotate(90 1744.7 389.8)" >1,80</text>
<text x="1744.7" y="525.7" font-size="14.5" text-anchor="middle" fill="#111" transform="rotate(90 1744.7 525.7)" >1,70</text>
<text x="1744.7" y="661.7" font-size="14.5" text-anchor="middle" fill="#111" transform="rotate(90 1744.7 661.7)" >1,80</text>
<text x="1744.7" y="776.3" font-size="14.5" text-anchor="middle" fill="#111" transform="rotate(90 1744.7 776.3)" >1,15</text>
<text x="1744.7" y="879.3" font-size="14.5" text-anchor="middle" fill="#111" transform="rotate(90 1744.7 879.3)" >1,50</text>
<text x="1744.7" y="991.9" font-size="14.5" text-anchor="middle" fill="#111" transform="rotate(90 1744.7 991.9)" >1,40</text>
<text x="1744.7" y="1104.6" font-size="14.5" text-anchor="middle" fill="#111" transform="rotate(90 1744.7 1104.6)" >1,50</text>
<text x="1744.7" y="1203.7" font-size="14.5" text-anchor="middle" fill="#111" transform="rotate(90 1744.7 1203.7)" >1,05</text>
<line x1="1764.9" y1="273.2" x2="1764.9" y2="1244.4" stroke="#444" stroke-width="1.3" />
<line x1="1753.9" y1="273.2" x2="1775.9" y2="273.2" stroke="#222" stroke-width="1.0" />
<path d="M1761.5,273.2 L1764.9,269.6 L1768.3,273.2 L1764.9,276.8 Z" fill="#1a1a1a"/>
<line x1="1753.9" y1="304.3" x2="1775.9" y2="304.3" stroke="#222" stroke-width="1.0" />
<path d="M1761.5,304.3 L1764.9,300.7 L1768.3,304.3 L1764.9,307.9 Z" fill="#1a1a1a"/>
<line x1="1753.9" y1="747.2" x2="1775.9" y2="747.2" stroke="#222" stroke-width="1.0" />
<path d="M1761.5,747.2 L1764.9,743.6 L1768.3,747.2 L1764.9,750.8 Z" fill="#1a1a1a"/>
<line x1="1753.9" y1="770.5" x2="1775.9" y2="770.5" stroke="#222" stroke-width="1.0" />
<path d="M1761.5,770.5 L1764.9,766.9 L1768.3,770.5 L1764.9,774.1 Z" fill="#1a1a1a"/>
<line x1="1753.9" y1="988" x2="1775.9" y2="988" stroke="#222" stroke-width="1.0" />
<path d="M1761.5,988 L1764.9,984.4 L1768.3,988 L1764.9,991.6 Z" fill="#1a1a1a"/>
<line x1="1753.9" y1="995.8" x2="1775.9" y2="995.8" stroke="#222" stroke-width="1.0" />
<path d="M1761.5,995.8 L1764.9,992.2 L1768.3,995.8 L1764.9,999.4 Z" fill="#1a1a1a"/>
<line x1="1753.9" y1="1213.4" x2="1775.9" y2="1213.4" stroke="#222" stroke-width="1.0" />
<path d="M1761.5,1213.4 L1764.9,1209.8 L1768.3,1213.4 L1764.9,1217 Z" fill="#1a1a1a"/>
<line x1="1753.9" y1="1244.4" x2="1775.9" y2="1244.4" stroke="#222" stroke-width="1.0" />
<path d="M1761.5,1244.4 L1764.9,1240.8 L1768.3,1244.4 L1764.9,1248 Z" fill="#1a1a1a"/>
<text x="1767.9" y="288.7" font-size="14.5" text-anchor="middle" fill="#111" transform="rotate(90 1767.9 288.7)" >40</text>
<text x="1767.9" y="525.7" font-size="14.5" text-anchor="middle" fill="#111" transform="rotate(90 1767.9 525.7)" >5,70</text>
<text x="1767.9" y="758.8" font-size="14.5" text-anchor="middle" fill="#111" transform="rotate(90 1767.9 758.8)" >30</text>
<text x="1767.9" y="879.3" font-size="14.5" text-anchor="middle" fill="#111" transform="rotate(90 1767.9 879.3)" >2,80</text>
<text x="1767.9" y="978" font-size="14.5" text-anchor="middle" fill="#111" transform="rotate(90 1767.9 978)" >10</text>
<text x="1767.9" y="1104.6" font-size="14.5" text-anchor="middle" fill="#111" transform="rotate(90 1767.9 1104.6)" >2,80</text>
<text x="1767.9" y="1228.9" font-size="14.5" text-anchor="middle" fill="#111" transform="rotate(90 1767.9 1228.9)" >40</text>
<line x1="1788.5" y1="273.2" x2="1788.5" y2="1244.5" stroke="#444" stroke-width="1.3" />
<line x1="1777.5" y1="273.2" x2="1799.5" y2="273.2" stroke="#222" stroke-width="1.0" />
<path d="M1785.1,273.2 L1788.5,269.6 L1791.9,273.2 L1788.5,276.8 Z" fill="#1a1a1a"/>
<line x1="1777.5" y1="304.3" x2="1799.5" y2="304.3" stroke="#222" stroke-width="1.0" />
<path d="M1785.1,304.3 L1788.5,300.7 L1791.9,304.3 L1788.5,307.9 Z" fill="#1a1a1a"/>
<line x1="1777.5" y1="747.2" x2="1799.5" y2="747.2" stroke="#222" stroke-width="1.0" />
<path d="M1785.1,747.2 L1788.5,743.6 L1791.9,747.2 L1788.5,750.8 Z" fill="#1a1a1a"/>
<line x1="1777.5" y1="778.3" x2="1799.5" y2="778.3" stroke="#222" stroke-width="1.0" />
<path d="M1785.1,778.3 L1788.5,774.7 L1791.9,778.3 L1788.5,781.9 Z" fill="#1a1a1a"/>
<line x1="1777.5" y1="1213.4" x2="1799.5" y2="1213.4" stroke="#222" stroke-width="1.0" />
<path d="M1785.1,1213.4 L1788.5,1209.8 L1791.9,1213.4 L1788.5,1217 Z" fill="#1a1a1a"/>
<line x1="1777.5" y1="1244.5" x2="1799.5" y2="1244.5" stroke="#222" stroke-width="1.0" />
<path d="M1785.1,1244.5 L1788.5,1240.9 L1791.9,1244.5 L1788.5,1248 Z" fill="#1a1a1a"/>
<text x="1791.5" y="288.7" font-size="14.5" text-anchor="middle" fill="#111" transform="rotate(90 1791.5 288.7)" >40</text>
<text x="1791.5" y="525.7" font-size="14.5" text-anchor="middle" fill="#111" transform="rotate(90 1791.5 525.7)" >5,70</text>
<text x="1791.5" y="762.7" font-size="14.5" text-anchor="middle" fill="#111" transform="rotate(90 1791.5 762.7)" >40</text>
<text x="1791.5" y="995.8" font-size="14.5" text-anchor="middle" fill="#111" transform="rotate(90 1791.5 995.8)" >5,60</text>
<text x="1791.5" y="1228.9" font-size="14.5" text-anchor="middle" fill="#111" transform="rotate(90 1791.5 1228.9)" >40</text>
<line x1="1811.7" y1="273.2" x2="1811.7" y2="1244.5" stroke="#444" stroke-width="1.3" />
<line x1="1800.7" y1="273.2" x2="1822.7" y2="273.2" stroke="#222" stroke-width="1.0" />
<path d="M1808.3,273.2 L1811.7,269.6 L1815.1,273.2 L1811.7,276.8 Z" fill="#1a1a1a"/>
<line x1="1800.7" y1="1244.5" x2="1822.7" y2="1244.5" stroke="#222" stroke-width="1.0" />
<path d="M1808.3,1244.5 L1811.7,1240.9 L1815.1,1244.5 L1811.7,1248 Z" fill="#1a1a1a"/>
<text x="1814.7" y="760" font-size="14.5" text-anchor="middle" fill="#111" transform="rotate(90 1814.7 760)" >12,50</text>
<rect x="235.3" y="273.2" width="396.7" height="8.5" fill="url(#ins)" stroke="none" stroke-width="1" />
<rect x="235.3" y="273.2" width="8.5" height="505.1" fill="url(#ins)" stroke="none" stroke-width="1" />
<rect x="623.5" y="273.2" width="8.5" height="70.6" fill="url(#ins)" stroke="none" stroke-width="1" />
<rect x="623.5" y="335.3" width="249.7" height="8.5" fill="url(#ins)" stroke="none" stroke-width="1" />
<rect x="864.7" y="273.2" width="8.5" height="70.6" fill="url(#ins)" stroke="none" stroke-width="1" />
<rect x="864.7" y="273.2" width="753.7" height="8.5" fill="url(#ins)" stroke="none" stroke-width="1" />
<rect x="1609.9" y="273.2" width="8.5" height="505.1" fill="url(#ins)" stroke="none" stroke-width="1" />
<rect x="1469.8" y="769.8" width="148.6" height="8.5" fill="url(#ins)" stroke="none" stroke-width="1" />
<rect x="1469.8" y="769.8" width="8.5" height="474.7" fill="url(#ins)" stroke="none" stroke-width="1" />
<rect x="413.7" y="1235.9" width="1064.6" height="8.6" fill="url(#ins)" stroke="none" stroke-width="1" />
<rect x="413.7" y="769.8" width="8.5" height="474.7" fill="url(#ins)" stroke="none" stroke-width="1" />
<rect x="235.3" y="769.8" width="637.9" height="8.5" fill="url(#ins)" stroke="none" stroke-width="1" />
<rect x="864.7" y="769.8" width="8.5" height="443.5" fill="url(#ins)" stroke="none" stroke-width="1" />
<rect x="243.8" y="281.7" width="379.7" height="22.6" fill="url(#hatch)" stroke="none" stroke-width="1" />
<rect x="243.8" y="281.7" width="22.6" height="488.1" fill="url(#hatch)" stroke="none" stroke-width="1" />
<rect x="600.4" y="281.7" width="23.1" height="84.7" fill="url(#hatch)" stroke="none" stroke-width="1" />
<rect x="600.4" y="343.8" width="272.8" height="22.6" fill="url(#hatch)" stroke="none" stroke-width="1" />
<rect x="873.2" y="281.7" width="22.5" height="84.7" fill="url(#hatch)" stroke="none" stroke-width="1" />
<rect x="873.2" y="281.7" width="736.7" height="22.6" fill="url(#hatch)" stroke="none" stroke-width="1" />
<rect x="1587.3" y="281.7" width="22.6" height="488.1" fill="url(#hatch)" stroke="none" stroke-width="1" />
<rect x="1447.2" y="747" width="162.7" height="22.8" fill="url(#hatch)" stroke="none" stroke-width="1" />
<rect x="1447.2" y="747" width="22.6" height="488.9" fill="url(#hatch)" stroke="none" stroke-width="1" />
<rect x="444.8" y="1213.3" width="1025" height="22.6" fill="url(#hatch)" stroke="none" stroke-width="1" />
<rect x="422.2" y="769.8" width="22.6" height="466.1" fill="url(#hatch)" stroke="none" stroke-width="1" />
<rect x="243.8" y="747" width="651.9" height="22.8" fill="url(#hatch)" stroke="none" stroke-width="1" />
<rect x="873.2" y="769.8" width="22.5" height="443.5" fill="url(#hatch)" stroke="none" stroke-width="1" />
<rect x="872.4" y="366.4" width="23.3" height="116.6" fill="url(#hatch)" stroke="none" stroke-width="1" />
<rect x="872.4" y="603" width="23.3" height="144" fill="url(#hatch)" stroke="none" stroke-width="1" />
<rect x="872.4" y="747" width="574.8" height="23.3" fill="url(#hatch)" stroke="none" stroke-width="1" />
<path d="M235.3,273.2 L632,273.2 L632,335.3 L864.7,335.3 L864.7,273.2 L1618.4,273.2 L1618.4,778.3 L1478.3,778.3 L1478.3,1244.5 L413.7,1244.5 L413.7,778.3 L235.3,778.3 Z" fill="none" stroke="#111" stroke-width="1.8" stroke-linecap="butt" stroke-linejoin="miter" />
<path d="M243.8,769.8 L243.8,281.7 L623.5,281.7 L623.5,343.8 L873.2,343.8 L873.2,281.7 L1609.9,281.7 L1609.9,769.8 L1469.8,769.8 L1469.8,1235.9 L422.2,1235.9 L422.2,769.8" fill="none" stroke="#111" stroke-width="1.8" stroke-linecap="butt" stroke-linejoin="miter" />
<path d="M243.8,769.8 L873.2,769.8 L873.2,1213.3" fill="none" stroke="#111" stroke-width="1.8" stroke-linecap="butt" stroke-linejoin="miter" />
<path d="M413.7,778.3 L864.7,778.3 L864.7,1213.3" fill="none" stroke="#111" stroke-width="1.8" stroke-linecap="butt" stroke-linejoin="miter" />
<path d="M266.4,747 L266.4,304.3 L600.4,304.3 L600.4,366.4 L872.4,366.4 L872.4,483" fill="none" stroke="#111" stroke-width="1.8" stroke-linecap="butt" stroke-linejoin="miter" />
<path d="M895.7,483 L895.7,304.3 L1587.3,304.3 L1587.3,747 L1447.2,747" fill="none" stroke="#111" stroke-width="1.8" stroke-linecap="butt" stroke-linejoin="miter" />
<path d="M266.4,747 L872.4,747 L872.4,603 L895.7,603 L895.7,747 L1447.2,747" fill="none" stroke="#111" stroke-width="1.8" stroke-linecap="butt" stroke-linejoin="miter" />
<path d="M895.7,770.3 L1447.2,770.3 L1447.2,1213.3 L895.7,1213.3 L895.7,770.3" fill="none" stroke="#111" stroke-width="1.8" stroke-linecap="butt" stroke-linejoin="miter" />
<path d="M444.8,778.3 L444.8,1213.3 L864.7,1213.3" fill="none" stroke="#111" stroke-width="1.8" stroke-linecap="butt" stroke-linejoin="miter" />
<path d="M872.4,483 L895.7,483" fill="none" stroke="#111" stroke-width="1.8" stroke-linecap="butt" stroke-linejoin="miter" />
<rect x="992.3" y="272.3" width="68.1" height="32.9" fill="#fff" stroke="none" stroke-width="1" />
<rect x="990.9" y="281.7" width="3.5" height="22.6" fill="#111" stroke="none" stroke-width="1" />
<rect x="1058.3" y="281.7" width="3.5" height="22.6" fill="#111" stroke="none" stroke-width="1" />
<rect x="994.4" y="270.7" width="63.9" height="33.6" fill="none" stroke="#666" stroke-width="1"/>
<path d="M994.4,274.7 L1058.3,274.7" fill="none" stroke="#555" stroke-width="1.2" stroke-dasharray="9 6" stroke-linecap="butt" stroke-linejoin="miter" />
<path d="M994.4,303.3 L1058.3,303.3" fill="none" stroke="#555" stroke-width="1.2" stroke-dasharray="9 6" stroke-linecap="butt" stroke-linejoin="miter" />
<rect x="996.4" y="294.3" width="59.9" height="4" fill="#999" stroke="#333" stroke-width="0.9"/>
<rect x="1157" y="272.3" width="138.1" height="32.9" fill="#fff" stroke="none" stroke-width="1" />
<rect x="1155.6" y="281.7" width="3.5" height="22.6" fill="#111" stroke="none" stroke-width="1" />
<rect x="1293" y="281.7" width="3.5" height="22.6" fill="#111" stroke="none" stroke-width="1" />
<rect x="1159.1" y="270.7" width="133.9" height="33.6" fill="none" stroke="#666" stroke-width="1"/>
<path d="M1159.1,274.7 L1293,274.7" fill="none" stroke="#555" stroke-width="1.2" stroke-dasharray="9 6" stroke-linecap="butt" stroke-linejoin="miter" />
<path d="M1159.1,303.3 L1293,303.3" fill="none" stroke="#555" stroke-width="1.2" stroke-dasharray="9 6" stroke-linecap="butt" stroke-linejoin="miter" />
<rect x="1161.1" y="294.3" width="129.9" height="4" fill="#999" stroke="#333" stroke-width="0.9"/>
<rect x="1424.9" y="272.3" width="138.2" height="32.9" fill="#fff" stroke="none" stroke-width="1" />
<rect x="1423.5" y="281.7" width="3.5" height="22.6" fill="#111" stroke="none" stroke-width="1" />
<rect x="1561" y="281.7" width="3.5" height="22.6" fill="#111" stroke="none" stroke-width="1" />
<rect x="1427" y="270.7" width="134" height="33.6" fill="none" stroke="#666" stroke-width="1"/>
<path d="M1427,274.7 L1561,274.7" fill="none" stroke="#555" stroke-width="1.2" stroke-dasharray="9 6" stroke-linecap="butt" stroke-linejoin="miter" />
<path d="M1427,303.3 L1561,303.3" fill="none" stroke="#555" stroke-width="1.2" stroke-dasharray="9 6" stroke-linecap="butt" stroke-linejoin="miter" />
<rect x="1429" y="294.3" width="130" height="4" fill="#999" stroke="#333" stroke-width="0.9"/>
<rect x="655.9" y="334.4" width="45.2" height="32.9" fill="#fff" stroke="none" stroke-width="1" />
<rect x="654.5" y="343.8" width="3.5" height="22.6" fill="#111" stroke="none" stroke-width="1" />
<rect x="699" y="343.8" width="3.5" height="22.6" fill="#111" stroke="none" stroke-width="1" />
<rect x="658" y="332.8" width="41" height="33.6" fill="none" stroke="#666" stroke-width="1"/>
<path d="M658,336.8 L699,336.8" fill="none" stroke="#555" stroke-width="1.2" stroke-dasharray="9 6" stroke-linecap="butt" stroke-linejoin="miter" />
<path d="M658,365.4 L699,365.4" fill="none" stroke="#555" stroke-width="1.2" stroke-dasharray="9 6" stroke-linecap="butt" stroke-linejoin="miter" />
<rect x="660" y="356.4" width="37" height="4" fill="#999" stroke="#333" stroke-width="0.9"/>
<rect x="748.9" y="334.4" width="77.2" height="32.9" fill="#fff" stroke="none" stroke-width="1" />
<rect x="747.5" y="343.8" width="3.5" height="22.6" fill="#111" stroke="none" stroke-width="1" />
<rect x="824" y="343.8" width="3.5" height="22.6" fill="#111" stroke="none" stroke-width="1" />
<rect x="234.4" y="341.7" width="32.9" height="68.2" fill="#fff" stroke="none" stroke-width="1" />
<rect x="243.8" y="340.3" width="22.6" height="3.5" fill="#111" stroke="none" stroke-width="1" />
<rect x="243.8" y="407.8" width="22.6" height="3.5" fill="#111" stroke="none" stroke-width="1" />
<rect x="232.8" y="343.8" width="33.6" height="64" fill="none" stroke="#666" stroke-width="1"/>
<path d="M236.8,343.8 L236.8,407.8" fill="none" stroke="#555" stroke-width="1.2" stroke-dasharray="9 6" stroke-linecap="butt" stroke-linejoin="miter" />
<path d="M265.4,343.8 L265.4,407.8" fill="none" stroke="#555" stroke-width="1.2" stroke-dasharray="9 6" stroke-linecap="butt" stroke-linejoin="miter" />
<rect x="256.4" y="345.8" width="4" height="60" fill="#999" stroke="#333" stroke-width="0.9"/>
<rect x="234.4" y="438.9" width="32.9" height="44.7" fill="#fff" stroke="none" stroke-width="1" />
<rect x="243.8" y="437.5" width="22.6" height="3.5" fill="#111" stroke="none" stroke-width="1" />
<rect x="243.8" y="481.5" width="22.6" height="3.5" fill="#111" stroke="none" stroke-width="1" />
<rect x="232.8" y="441" width="33.6" height="40.5" fill="none" stroke="#666" stroke-width="1"/>
<path d="M236.8,441 L236.8,481.5" fill="none" stroke="#555" stroke-width="1.2" stroke-dasharray="9 6" stroke-linecap="butt" stroke-linejoin="miter" />
<path d="M265.4,441 L265.4,481.5" fill="none" stroke="#555" stroke-width="1.2" stroke-dasharray="9 6" stroke-linecap="butt" stroke-linejoin="miter" />
<rect x="256.4" y="443" width="4" height="36.5" fill="#999" stroke="#333" stroke-width="0.9"/>
<rect x="234.4" y="567" width="32.9" height="68.1" fill="#fff" stroke="none" stroke-width="1" />
<rect x="243.8" y="565.6" width="22.6" height="3.5" fill="#111" stroke="none" stroke-width="1" />
<rect x="243.8" y="633" width="22.6" height="3.5" fill="#111" stroke="none" stroke-width="1" />
<rect x="232.8" y="569.1" width="33.6" height="63.9" fill="none" stroke="#666" stroke-width="1"/>
<path d="M236.8,569.1 L236.8,633" fill="none" stroke="#555" stroke-width="1.2" stroke-dasharray="9 6" stroke-linecap="butt" stroke-linejoin="miter" />
<path d="M265.4,569.1 L265.4,633" fill="none" stroke="#555" stroke-width="1.2" stroke-dasharray="9 6" stroke-linecap="butt" stroke-linejoin="miter" />
<rect x="256.4" y="571.1" width="4" height="59.9" fill="#999" stroke="#333" stroke-width="0.9"/>
<rect x="234.4" y="664.2" width="32.9" height="44.8" fill="#fff" stroke="none" stroke-width="1" />
<rect x="243.8" y="662.8" width="22.6" height="3.5" fill="#111" stroke="none" stroke-width="1" />
<rect x="243.8" y="706.9" width="22.6" height="3.5" fill="#111" stroke="none" stroke-width="1" />
<rect x="232.8" y="666.3" width="33.6" height="40.6" fill="none" stroke="#666" stroke-width="1"/>
<path d="M236.8,666.3 L236.8,706.9" fill="none" stroke="#555" stroke-width="1.2" stroke-dasharray="9 6" stroke-linecap="butt" stroke-linejoin="miter" />
<path d="M265.4,666.3 L265.4,706.9" fill="none" stroke="#555" stroke-width="1.2" stroke-dasharray="9 6" stroke-linecap="butt" stroke-linejoin="miter" />
<rect x="256.4" y="668.3" width="4" height="36.6" fill="#999" stroke="#333" stroke-width="0.9"/>
<rect x="1586.4" y="320.7" width="32.9" height="138" fill="#fff" stroke="none" stroke-width="1" />
<rect x="1587.3" y="319.3" width="22.6" height="3.5" fill="#111" stroke="none" stroke-width="1" />
<rect x="1587.3" y="456.6" width="22.6" height="3.5" fill="#111" stroke="none" stroke-width="1" />
<rect x="1584.8" y="322.8" width="33.6" height="133.8" fill="none" stroke="#666" stroke-width="1"/>
<path d="M1588.8,322.8 L1588.8,456.6" fill="none" stroke="#555" stroke-width="1.2" stroke-dasharray="9 6" stroke-linecap="butt" stroke-linejoin="miter" />
<path d="M1617.4,322.8 L1617.4,456.6" fill="none" stroke="#555" stroke-width="1.2" stroke-dasharray="9 6" stroke-linecap="butt" stroke-linejoin="miter" />
<rect x="1593.3" y="324.8" width="4" height="129.8" fill="#999" stroke="#333" stroke-width="0.9"/>
<rect x="1586.4" y="592.6" width="32.9" height="138.1" fill="#fff" stroke="none" stroke-width="1" />
<rect x="1587.3" y="591.2" width="22.6" height="3.5" fill="#111" stroke="none" stroke-width="1" />
<rect x="1587.3" y="728.6" width="22.6" height="3.5" fill="#111" stroke="none" stroke-width="1" />
<rect x="1494.7" y="746.1" width="68.1" height="33.1" fill="#fff" stroke="none" stroke-width="1" />
<rect x="1493.3" y="747" width="3.5" height="22.8" fill="#111" stroke="none" stroke-width="1" />
<rect x="1560.7" y="747" width="3.5" height="22.8" fill="#111" stroke="none" stroke-width="1" />
<rect x="1496.8" y="744.5" width="63.9" height="33.8" fill="none" stroke="#666" stroke-width="1"/>
<path d="M1496.8,748.5 L1560.7,748.5" fill="none" stroke="#555" stroke-width="1.2" stroke-dasharray="9 6" stroke-linecap="butt" stroke-linejoin="miter" />
<path d="M1496.8,777.3 L1560.7,777.3" fill="none" stroke="#555" stroke-width="1.2" stroke-dasharray="9 6" stroke-linecap="butt" stroke-linejoin="miter" />
<rect x="1498.8" y="753" width="59.9" height="4" fill="#999" stroke="#333" stroke-width="0.9"/>
<rect x="1446.3" y="821.9" width="32.9" height="114.7" fill="#fff" stroke="none" stroke-width="1" />
<rect x="1447.2" y="820.5" width="22.6" height="3.5" fill="#111" stroke="none" stroke-width="1" />
<rect x="1447.2" y="934.5" width="22.6" height="3.5" fill="#111" stroke="none" stroke-width="1" />
<rect x="1444.7" y="824" width="33.6" height="110.5" fill="none" stroke="#666" stroke-width="1"/>
<path d="M1448.7,824 L1448.7,934.5" fill="none" stroke="#555" stroke-width="1.2" stroke-dasharray="9 6" stroke-linecap="butt" stroke-linejoin="miter" />
<path d="M1477.3,824 L1477.3,934.5" fill="none" stroke="#555" stroke-width="1.2" stroke-dasharray="9 6" stroke-linecap="butt" stroke-linejoin="miter" />
<rect x="1460.2" y="826" width="4" height="106.5" fill="#999" stroke="#333" stroke-width="0.9"/>
<rect x="1446.3" y="1047.2" width="32.9" height="114.8" fill="#fff" stroke="none" stroke-width="1" />
<rect x="1447.2" y="1045.8" width="22.6" height="3.5" fill="#111" stroke="none" stroke-width="1" />
<rect x="1447.2" y="1159.9" width="22.6" height="3.5" fill="#111" stroke="none" stroke-width="1" />
<rect x="1444.7" y="1049.3" width="33.6" height="110.6" fill="none" stroke="#666" stroke-width="1"/>
<path d="M1448.7,1049.3 L1448.7,1159.9" fill="none" stroke="#555" stroke-width="1.2" stroke-dasharray="9 6" stroke-linecap="butt" stroke-linejoin="miter" />
<path d="M1477.3,1049.3 L1477.3,1159.9" fill="none" stroke="#555" stroke-width="1.2" stroke-dasharray="9 6" stroke-linecap="butt" stroke-linejoin="miter" />
<rect x="1460.2" y="1051.3" width="4" height="106.6" fill="#999" stroke="#333" stroke-width="0.9"/>
<rect x="748.7" y="1212.4" width="68.1" height="33" fill="#fff" stroke="none" stroke-width="1" />
<rect x="747.3" y="1213.3" width="3.5" height="22.7" fill="#111" stroke="none" stroke-width="1" />
<rect x="814.7" y="1213.3" width="3.5" height="22.7" fill="#111" stroke="none" stroke-width="1" />
<rect x="750.8" y="1210.8" width="63.9" height="33.7" fill="none" stroke="#666" stroke-width="1"/>
<path d="M750.8,1214.8 L814.7,1214.8" fill="none" stroke="#555" stroke-width="1.2" stroke-dasharray="9 6" stroke-linecap="butt" stroke-linejoin="miter" />
<path d="M750.8,1243.5 L814.7,1243.5" fill="none" stroke="#555" stroke-width="1.2" stroke-dasharray="9 6" stroke-linecap="butt" stroke-linejoin="miter" />
<rect x="752.8" y="1219.3" width="59.9" height="4" fill="#999" stroke="#333" stroke-width="0.9"/>
<rect x="1001.2" y="1212.4" width="68.1" height="33" fill="#fff" stroke="none" stroke-width="1" />
<rect x="999.8" y="1213.3" width="3.5" height="22.7" fill="#111" stroke="none" stroke-width="1" />
<rect x="1067.2" y="1213.3" width="3.5" height="22.7" fill="#111" stroke="none" stroke-width="1" />
<rect x="1003.3" y="1210.8" width="63.9" height="33.7" fill="none" stroke="#666" stroke-width="1"/>
<path d="M1003.3,1214.8 L1067.2,1214.8" fill="none" stroke="#555" stroke-width="1.2" stroke-dasharray="9 6" stroke-linecap="butt" stroke-linejoin="miter" />
<path d="M1003.3,1243.5 L1067.2,1243.5" fill="none" stroke="#555" stroke-width="1.2" stroke-dasharray="9 6" stroke-linecap="butt" stroke-linejoin="miter" />
<rect x="1005.3" y="1219.3" width="59.9" height="4" fill="#999" stroke="#333" stroke-width="0.9"/>
<rect x="412.8" y="794.6" width="32.9" height="394.5" fill="#fff" stroke="none" stroke-width="1" />
<rect x="422.2" y="793.2" width="22.6" height="3.5" fill="#111" stroke="none" stroke-width="1" />
<rect x="422.2" y="1187" width="22.6" height="3.5" fill="#111" stroke="none" stroke-width="1" />
<rect x="748.7" y="746.1" width="68.4" height="33.1" fill="#fff" stroke="none" stroke-width="1" />
<rect x="747.3" y="747" width="3.5" height="22.8" fill="#111" stroke="none" stroke-width="1" />
<rect x="815" y="747" width="3.5" height="22.8" fill="#111" stroke="none" stroke-width="1" />
<rect x="1020.7" y="746" width="83.7" height="25.2" fill="#fff" stroke="none" stroke-width="1" />
<rect x="871.4" y="484" width="25.3" height="118" fill="#fff" stroke="none" stroke-width="1" />
<rect x="244.6" y="411.6" width="21" height="25.6" fill="none" stroke="#111" stroke-width="2.2"/>
<rect x="235.9" y="411.4" width="29.9" height="26" fill="none" stroke="#111" stroke-width="1.2"/>
<rect x="244.6" y="636.8" width="21" height="25.7" fill="none" stroke="#111" stroke-width="2.2"/>
<rect x="235.9" y="636.6" width="29.9" height="26.1" fill="none" stroke="#111" stroke-width="1.2"/>
<rect x="423" y="770.8" width="21" height="22.1" fill="none" stroke="#111" stroke-width="2"/>
<rect x="423" y="1190.8" width="21" height="44.3" fill="none" stroke="#111" stroke-width="2"/>
<rect x="266.4" y="521.6" width="341.1" height="7.8" fill="#111" stroke="none" stroke-width="1" />
<rect x="600.4" y="366.4" width="7.8" height="85.6" fill="#111" stroke="none" stroke-width="1" />
<rect x="600.4" y="444" width="77.9" height="8" fill="#111" stroke="none" stroke-width="1" />
<rect x="740.3" y="366.4" width="7.8" height="85.6" fill="#111" stroke="none" stroke-width="1" />
<rect x="600.4" y="599.7" width="7.8" height="147.3" fill="#111" stroke="none" stroke-width="1" />
<rect x="600.4" y="599.7" width="78.4" height="7.8" fill="#111" stroke="none" stroke-width="1" />
<rect x="740.3" y="599.7" width="7.8" height="147.3" fill="#111" stroke="none" stroke-width="1" />
<rect x="818" y="599.7" width="54.4" height="7.8" fill="#111" stroke="none" stroke-width="1" />
<path d="M180.5,218.8 L1673.2,218.8" fill="none" stroke="#111" stroke-width="2.5" stroke-dasharray="17 6.3 9 6.3" stroke-linecap="butt" stroke-linejoin="miter" />
<path d="M1673.2,218.8 L1673.2,832.3" fill="none" stroke="#111" stroke-width="2.5" stroke-dasharray="17 6.3 9 6.3" stroke-linecap="butt" stroke-linejoin="miter" />
<path d="M1673.2,832.3 L1532.5,832.3" fill="none" stroke="#111" stroke-width="2.5" stroke-dasharray="17 6.3 9 6.3" stroke-linecap="butt" stroke-linejoin="miter" />
<path d="M1532.5,832.3 L1532.5,1300" fill="none" stroke="#111" stroke-width="2.5" stroke-dasharray="17 6.3 9 6.3" stroke-linecap="butt" stroke-linejoin="miter" />
<path d="M1532.5,1300 L359,1300" fill="none" stroke="#111" stroke-width="2.5" stroke-dasharray="17 6.3 9 6.3" stroke-linecap="butt" stroke-linejoin="miter" />
<path d="M359,1300 L359,832.3" fill="none" stroke="#111" stroke-width="2.5" stroke-dasharray="17 6.3 9 6.3" stroke-linecap="butt" stroke-linejoin="miter" />
<path d="M359,832.3 L180.5,832.3" fill="none" stroke="#111" stroke-width="2.5" stroke-dasharray="17 6.3 9 6.3" stroke-linecap="butt" stroke-linejoin="miter" />
<path d="M180.5,832.3 L180.5,218.8" fill="none" stroke="#111" stroke-width="2.5" stroke-dasharray="17 6.3 9 6.3" stroke-linecap="butt" stroke-linejoin="miter" />
<path d="M180.5,218.8 L487,525.3" fill="none" stroke="#111" stroke-width="2.5" stroke-dasharray="17 6.3 9 6.3" stroke-linecap="butt" stroke-linejoin="miter" />
<path d="M180.5,832.3 L487,525.3" fill="none" stroke="#111" stroke-width="2.5" stroke-dasharray="17 6.3 9 6.3" stroke-linecap="butt" stroke-linejoin="miter" />
<path d="M663.5,527 L359,832.3" fill="none" stroke="#111" stroke-width="2.5" stroke-dasharray="17 6.3 9 6.3" stroke-linecap="butt" stroke-linejoin="miter" />
<path d="M663.5,527 L897.5,760" fill="none" stroke="#111" stroke-width="2.5" stroke-dasharray="17 6.3 9 6.3" stroke-linecap="butt" stroke-linejoin="miter" />
<path d="M359,1300 L897.5,760" fill="none" stroke="#111" stroke-width="2.5" stroke-dasharray="17 6.3 9 6.3" stroke-linecap="butt" stroke-linejoin="miter" />
<path d="M897.5,759.5 L993.5,759.5" fill="none" stroke="#111" stroke-width="2.5" stroke-dasharray="17 6.3 9 6.3" stroke-linecap="butt" stroke-linejoin="miter" />
<path d="M1532.5,1300 L993.5,759.5" fill="none" stroke="#111" stroke-width="2.5" stroke-dasharray="17 6.3 9 6.3" stroke-linecap="butt" stroke-linejoin="miter" />
<path d="M993.5,759.5 L1226.5,526.2" fill="none" stroke="#111" stroke-width="2.5" stroke-dasharray="17 6.3 9 6.3" stroke-linecap="butt" stroke-linejoin="miter" />
<path d="M1226.5,526.2 L1366.7,526.2" fill="none" stroke="#111" stroke-width="2.5" stroke-dasharray="17 6.3 9 6.3" stroke-linecap="butt" stroke-linejoin="miter" />
<path d="M1226.5,526.2 L1532.5,832.3" fill="none" stroke="#111" stroke-width="2.5" stroke-dasharray="17 6.3 9 6.3" stroke-linecap="butt" stroke-linejoin="miter" />
<path d="M1366.7,526.2 L1673.2,218.8" fill="none" stroke="#111" stroke-width="2.5" stroke-dasharray="17 6.3 9 6.3" stroke-linecap="butt" stroke-linejoin="miter" />
<path d="M1366.7,526.2 L1673.2,832.3" fill="none" stroke="#111" stroke-width="2.5" stroke-dasharray="17 6.3 9 6.3" stroke-linecap="butt" stroke-linejoin="miter" />
<rect x="434.8" y="400" width="24.5" height="29" fill="#fff" stroke="#111" stroke-width="1.5"/>
<text x="447" y="414.5" font-size="19" text-anchor="middle" dominant-baseline="central" fill="#111" transform="rotate(90 447 414.5)">12</text>
<text x="411.5" y="414.5" font-size="20.5" text-anchor="middle" font-weight="bold" fill="#111" transform="rotate(90 411.5 414.5)" >Szoba</text>
<text x="391.3" y="414.5" font-size="15.5" text-anchor="middle" fill="#111" transform="rotate(90 391.3 414.5)" >laminált parketta</text>
<text x="369.5" y="414.5" font-size="15.5" text-anchor="middle" fill="#111" transform="rotate(90 369.5 414.5)" >12,04 m²</text>
<rect x="434.8" y="625.5" width="24.5" height="29" fill="#fff" stroke="#111" stroke-width="1.5"/>
<text x="447" y="640" font-size="19" text-anchor="middle" dominant-baseline="central" fill="#111" transform="rotate(90 447 640)">11</text>
<text x="411.5" y="640" font-size="20.5" text-anchor="middle" font-weight="bold" fill="#111" transform="rotate(90 411.5 640)" >Szoba</text>
<text x="391.3" y="640" font-size="15.5" text-anchor="middle" fill="#111" transform="rotate(90 391.3 640)" >laminált parketta</text>
<text x="369.5" y="640" font-size="15.5" text-anchor="middle" fill="#111" transform="rotate(90 369.5 640)" >12,04 m²</text>
<line x1="322.5" y1="304.3" x2="322.5" y2="1245.2" stroke="#444" stroke-width="1.3" />
<line x1="313.5" y1="304.3" x2="331.5" y2="304.3" stroke="#222" stroke-width="1.0" />
<path d="M319.1,304.3 L322.5,300.7 L325.9,304.3 L322.5,307.9 Z" fill="#1a1a1a"/>
<line x1="313.5" y1="337.7" x2="331.5" y2="337.7" stroke="#222" stroke-width="1.0" />
<path d="M319.1,337.7 L322.5,334.1 L325.9,337.7 L322.5,341.3 Z" fill="#1a1a1a"/>
<line x1="313.5" y1="415.4" x2="331.5" y2="415.4" stroke="#222" stroke-width="1.0" />
<path d="M319.1,415.4 L322.5,411.8 L325.9,415.4 L322.5,419 Z" fill="#1a1a1a"/>
<line x1="313.5" y1="434.8" x2="331.5" y2="434.8" stroke="#222" stroke-width="1.0" />
<path d="M319.1,434.8 L322.5,431.2 L325.9,434.8 L322.5,438.4 Z" fill="#1a1a1a"/>
<line x1="313.5" y1="489.2" x2="331.5" y2="489.2" stroke="#222" stroke-width="1.0" />
<path d="M319.1,489.2 L322.5,485.6 L325.9,489.2 L322.5,492.8 Z" fill="#1a1a1a"/>
<line x1="313.5" y1="563" x2="331.5" y2="563" stroke="#222" stroke-width="1.0" />
<path d="M319.1,563 L322.5,559.4 L325.9,563 L322.5,566.6 Z" fill="#1a1a1a"/>
<line x1="313.5" y1="640.7" x2="331.5" y2="640.7" stroke="#222" stroke-width="1.0" />
<path d="M319.1,640.7 L322.5,637.1 L325.9,640.7 L322.5,644.3 Z" fill="#1a1a1a"/>
<line x1="313.5" y1="660.2" x2="331.5" y2="660.2" stroke="#222" stroke-width="1.0" />
<path d="M319.1,660.2 L322.5,656.6 L325.9,660.2 L322.5,663.8 Z" fill="#1a1a1a"/>
<line x1="313.5" y1="714.6" x2="331.5" y2="714.6" stroke="#222" stroke-width="1.0" />
<path d="M319.1,714.6 L322.5,711 L325.9,714.6 L322.5,718.2 Z" fill="#1a1a1a"/>
<line x1="313.5" y1="748" x2="331.5" y2="748" stroke="#222" stroke-width="1.0" />
<path d="M319.1,748 L322.5,744.4 L325.9,748 L322.5,751.6 Z" fill="#1a1a1a"/>
<line x1="313.5" y1="790.7" x2="331.5" y2="790.7" stroke="#222" stroke-width="1.0" />
<path d="M319.1,790.7 L322.5,787.1 L325.9,790.7 L322.5,794.3 Z" fill="#1a1a1a"/>
<line x1="313.5" y1="1194.7" x2="331.5" y2="1194.7" stroke="#222" stroke-width="1.0" />
<path d="M319.1,1194.7 L322.5,1191.1 L325.9,1194.7 L322.5,1198.3 Z" fill="#1a1a1a"/>
<line x1="313.5" y1="1233.6" x2="331.5" y2="1233.6" stroke="#222" stroke-width="1.0" />
<path d="M319.1,1233.6 L322.5,1230 L325.9,1233.6 L322.5,1237.2 Z" fill="#1a1a1a"/>
<line x1="313.5" y1="1245.2" x2="331.5" y2="1245.2" stroke="#222" stroke-width="1.0" />
<path d="M319.1,1245.2 L322.5,1241.6 L325.9,1245.2 L322.5,1248.8 Z" fill="#1a1a1a"/>
<text x="325.5" y="321" font-size="14.5" text-anchor="middle" fill="#111" transform="rotate(90 325.5 321)" >43</text>
<text x="325.5" y="376.6" font-size="14.5" text-anchor="middle" fill="#111" transform="rotate(90 325.5 376.6)" >1,00</text>
<text x="325.5" y="425.1" font-size="14.5" text-anchor="middle" fill="#111" transform="rotate(90 325.5 425.1)" >25</text>
<text x="325.5" y="462" font-size="14.5" text-anchor="middle" fill="#111" transform="rotate(90 325.5 462)" >70</text>
<text x="325.5" y="526.1" font-size="14.5" text-anchor="middle" fill="#111" transform="rotate(90 325.5 526.1)" >95</text>
<text x="325.5" y="601.9" font-size="14.5" text-anchor="middle" fill="#111" transform="rotate(90 325.5 601.9)" >1,00</text>
<text x="325.5" y="650.5" font-size="14.5" text-anchor="middle" fill="#111" transform="rotate(90 325.5 650.5)" >25</text>
<text x="325.5" y="687.4" font-size="14.5" text-anchor="middle" fill="#111" transform="rotate(90 325.5 687.4)" >70</text>
<text x="325.5" y="731.3" font-size="14.5" text-anchor="middle" fill="#111" transform="rotate(90 325.5 731.3)" >43</text>
<text x="325.5" y="769.3" font-size="14.5" text-anchor="middle" fill="#111" transform="rotate(90 325.5 769.3)" >55</text>
<text x="325.5" y="992.7" font-size="14.5" text-anchor="middle" fill="#111" transform="rotate(90 325.5 992.7)" >5,20</text>
<text x="325.5" y="1214.2" font-size="14.5" text-anchor="middle" fill="#111" transform="rotate(90 325.5 1214.2)" >50</text>
<text x="325.5" y="1245.6" font-size="14.5" text-anchor="middle" fill="#111" transform="rotate(90 325.5 1245.6)" >15</text>
<line x1="521.3" y1="304.3" x2="521.3" y2="747.2" stroke="#444" stroke-width="1.3" />
<line x1="512.3" y1="304.3" x2="530.3" y2="304.3" stroke="#222" stroke-width="1.0" />
<path d="M517.9,304.3 L521.3,300.7 L524.7,304.3 L521.3,307.9 Z" fill="#1a1a1a"/>
<line x1="512.3" y1="366.5" x2="530.3" y2="366.5" stroke="#222" stroke-width="1.0" />
<path d="M517.9,366.5 L521.3,362.9 L524.7,366.5 L521.3,370.1 Z" fill="#1a1a1a"/>
<line x1="512.3" y1="444.2" x2="530.3" y2="444.2" stroke="#222" stroke-width="1.0" />
<path d="M517.9,444.2 L521.3,440.6 L524.7,444.2 L521.3,447.8 Z" fill="#1a1a1a"/>
<line x1="512.3" y1="451.9" x2="530.3" y2="451.9" stroke="#222" stroke-width="1.0" />
<path d="M517.9,451.9 L521.3,448.3 L524.7,451.9 L521.3,455.5 Z" fill="#1a1a1a"/>
<line x1="512.3" y1="521.9" x2="530.3" y2="521.9" stroke="#222" stroke-width="1.0" />
<path d="M517.9,521.9 L521.3,518.3 L524.7,521.9 L521.3,525.5 Z" fill="#1a1a1a"/>
<line x1="512.3" y1="529.6" x2="530.3" y2="529.6" stroke="#222" stroke-width="1.0" />
<path d="M517.9,529.6 L521.3,526 L524.7,529.6 L521.3,533.2 Z" fill="#1a1a1a"/>
<line x1="512.3" y1="599.6" x2="530.3" y2="599.6" stroke="#222" stroke-width="1.0" />
<path d="M517.9,599.6 L521.3,596 L524.7,599.6 L521.3,603.2 Z" fill="#1a1a1a"/>
<line x1="512.3" y1="607.3" x2="530.3" y2="607.3" stroke="#222" stroke-width="1.0" />
<path d="M517.9,607.3 L521.3,603.7 L524.7,607.3 L521.3,610.9 Z" fill="#1a1a1a"/>
<line x1="512.3" y1="747.2" x2="530.3" y2="747.2" stroke="#222" stroke-width="1.0" />
<path d="M517.9,747.2 L521.3,743.6 L524.7,747.2 L521.3,750.8 Z" fill="#1a1a1a"/>
<text x="524.3" y="335.4" font-size="14.5" text-anchor="middle" fill="#111" transform="rotate(90 524.3 335.4)" >80</text>
<text x="524.3" y="405.3" font-size="14.5" text-anchor="middle" fill="#111" transform="rotate(90 524.3 405.3)" >1,00</text>
<text x="524.3" y="462.2" font-size="14.5" text-anchor="middle" fill="#111" transform="rotate(90 524.3 462.2)" >10</text>
<text x="524.3" y="509.9" font-size="14.5" text-anchor="middle" fill="#111" transform="rotate(90 524.3 509.9)" >10</text>
<text x="524.3" y="585.6" font-size="14.5" text-anchor="middle" fill="#111" transform="rotate(90 524.3 585.6)" >10</text>
<text x="524.3" y="677.3" font-size="14.5" text-anchor="middle" fill="#111" transform="rotate(90 524.3 677.3)" >1,80</text>
<line x1="122" y1="375.8" x2="289" y2="375.8" stroke="#333" stroke-width="1.0" />
<text x="150" y="370.8" font-size="14.5" text-anchor="middle" fill="#111" >90</text>
<text x="150" y="392.8" font-size="14.5" text-anchor="middle" fill="#111" >2,40</text>
<text x="279" y="375.8" font-size="14" text-anchor="middle" fill="#111" transform="rotate(90 279 375.8)" >pm 0</text>
<line x1="122" y1="461.3" x2="289" y2="461.3" stroke="#333" stroke-width="1.0" />
<text x="150" y="456.3" font-size="14.5" text-anchor="middle" fill="#111" >60</text>
<text x="150" y="478.3" font-size="14.5" text-anchor="middle" fill="#111" >2,40</text>
<text x="279" y="461.3" font-size="14" text-anchor="middle" fill="#111" transform="rotate(90 279 461.3)" >pm 0</text>
<line x1="122" y1="601.1" x2="289" y2="601.1" stroke="#333" stroke-width="1.0" />
<text x="150" y="596.1" font-size="14.5" text-anchor="middle" fill="#111" >90</text>
<text x="150" y="618.1" font-size="14.5" text-anchor="middle" fill="#111" >2,40</text>
<text x="279" y="601.1" font-size="14" text-anchor="middle" fill="#111" transform="rotate(90 279 601.1)" >pm 0</text>
<line x1="122" y1="686.6" x2="289" y2="686.6" stroke="#333" stroke-width="1.0" />
<text x="150" y="681.6" font-size="14.5" text-anchor="middle" fill="#111" >60</text>
<text x="150" y="703.6" font-size="14.5" text-anchor="middle" fill="#111" >2,40</text>
<text x="279" y="686.6" font-size="14" text-anchor="middle" fill="#111" transform="rotate(90 279 686.6)" >pm 0</text>
<rect x="601.2" y="452" width="6.2" height="69.6" fill="#fff" stroke="none" stroke-width="1" />
<line x1="600.6" y1="452" x2="600.6" y2="521.6" stroke="#444" stroke-width="1.0" />
<line x1="608" y1="452" x2="608" y2="521.6" stroke="#444" stroke-width="1.0" />
<rect x="601.2" y="529.4" width="6.2" height="70.3" fill="#fff" stroke="none" stroke-width="1" />
<line x1="600.6" y1="529.4" x2="600.6" y2="599.7" stroke="#444" stroke-width="1.0" />
<line x1="608" y1="529.4" x2="608" y2="599.7" stroke="#444" stroke-width="1.0" />
<path d="M536.4,518.5 A64,64 0 0 1 600.4,454.5" fill="none" stroke="#444" stroke-width="1.0"/>
<rect x="600.4" y="516.8" width="64" height="3.5" fill="#fff" stroke="#444" stroke-width="1.0" transform="rotate(180 600.4 518.5)"/>
<path d="M536.4,532.5 A64,64 0 0 0 600.4,596.5" fill="none" stroke="#444" stroke-width="1.0"/>
<rect x="600.4" y="530.8" width="64" height="3.5" fill="#fff" stroke="#444" stroke-width="1.0" transform="rotate(180 600.4 532.5)"/>
<line x1="538.6" y1="487.1" x2="616.5" y2="487.1" stroke="#333" stroke-width="1.0" />
<text x="560" y="481.1" font-size="14.5" text-anchor="middle" fill="#111" >90</text>
<text x="563" y="503.1" font-size="14.5" text-anchor="middle" fill="#111" >2,10</text>
<line x1="538.6" y1="564.3" x2="616.5" y2="564.3" stroke="#333" stroke-width="1.0" />
<text x="560" y="558.3" font-size="14.5" text-anchor="middle" fill="#111" >90</text>
<text x="563" y="580.3" font-size="14.5" text-anchor="middle" fill="#111" >2,10</text>
<line x1="600.2" y1="502.6" x2="872.2" y2="502.6" stroke="#444" stroke-width="1.3" />
<line x1="600.2" y1="493.6" x2="600.2" y2="511.6" stroke="#222" stroke-width="1.0" />
<path d="M596.8,502.6 L600.2,499 L603.6,502.6 L600.2,506.2 Z" fill="#1a1a1a"/>
<line x1="650.7" y1="493.6" x2="650.7" y2="511.6" stroke="#222" stroke-width="1.0" />
<path d="M647.3,502.6 L650.7,499 L654.1,502.6 L650.7,506.2 Z" fill="#1a1a1a"/>
<line x1="705.1" y1="493.6" x2="705.1" y2="511.6" stroke="#222" stroke-width="1.0" />
<path d="M701.7,502.6 L705.1,499 L708.5,502.6 L705.1,506.2 Z" fill="#1a1a1a"/>
<line x1="743.9" y1="493.6" x2="743.9" y2="511.6" stroke="#222" stroke-width="1.0" />
<path d="M740.5,502.6 L743.9,499 L747.3,502.6 L743.9,506.2 Z" fill="#1a1a1a"/>
<line x1="829.4" y1="493.6" x2="829.4" y2="511.6" stroke="#222" stroke-width="1.0" />
<path d="M826,502.6 L829.4,499 L832.8,502.6 L829.4,506.2 Z" fill="#1a1a1a"/>
<line x1="872.2" y1="493.6" x2="872.2" y2="511.6" stroke="#222" stroke-width="1.0" />
<path d="M868.8,502.6 L872.2,499 L875.6,502.6 L872.2,506.2 Z" fill="#1a1a1a"/>
<text x="625.5" y="500.6" font-size="14.5" text-anchor="middle" fill="#111" >65</text>
<text x="666.7" y="500.6" font-size="14.5" text-anchor="middle" fill="#111" >70</text>
<text x="729.1" y="500.6" font-size="14.5" text-anchor="middle" fill="#111" >50</text>
<text x="786.7" y="500.6" font-size="14.5" text-anchor="middle" fill="#111" >1,10</text>
<text x="850.8" y="500.6" font-size="14.5" text-anchor="middle" fill="#111" >55</text>
<rect x="678.5" y="444.2" width="61.6" height="7.6" fill="#fff" stroke="none" stroke-width="1" />
<path d="M682,506 A54,54 0 0 0 736,452" fill="none" stroke="#444" stroke-width="1.0"/>
<rect x="682" y="450.2" width="54" height="3.5" fill="#fff" stroke="#444" stroke-width="1.0" transform="rotate(90 682 452)"/>
<rect x="679" y="599.9" width="61.1" height="7.4" fill="#fff" stroke="none" stroke-width="1" />
<path d="M740,541.4 A58.6,58.6 0 0 0 681.4,600" fill="none" stroke="#444" stroke-width="1.0"/>
<rect x="740" y="598.2" width="58.6" height="3.5" fill="#fff" stroke="#444" stroke-width="1.0" transform="rotate(270 740 600)"/>
<text x="690" y="476" font-size="14.5" text-anchor="middle" fill="#111" transform="rotate(90 690 476)" >2,10</text>
<text x="713" y="482" font-size="14.5" text-anchor="middle" fill="#111" transform="rotate(90 713 482)" >75</text>
<text x="690" y="575" font-size="14.5" text-anchor="middle" fill="#111" transform="rotate(90 690 575)" >2,10</text>
<text x="713" y="570" font-size="14.5" text-anchor="middle" fill="#111" transform="rotate(90 713 570)" >75</text>
<line x1="707.2" y1="440" x2="707.2" y2="514" stroke="#555" stroke-width="1.0" />
<line x1="707.2" y1="537" x2="707.2" y2="615" stroke="#555" stroke-width="1.0" />
<rect x="692.2" y="392.3" width="24.5" height="29" fill="#fff" stroke="#111" stroke-width="1.5"/>
<text x="704.5" y="406.8" font-size="19" text-anchor="middle" dominant-baseline="central" fill="#111" transform="rotate(90 704.5 406.8)">13</text>
<text x="669.5" y="406.8" font-size="20.5" text-anchor="middle" font-weight="bold" fill="#111" transform="rotate(90 669.5 406.8)" >Wc.</text>
<text x="647" y="406.8" font-size="15.5" text-anchor="middle" fill="#111" transform="rotate(90 647 406.8)" >kerámia</text>
<text x="627" y="409" font-size="15.5" text-anchor="middle" fill="#111" transform="rotate(90 627 409)" >1,70 m²</text>
<text x="678" y="390" font-size="14.5" text-anchor="middle" fill="#111" >pm 180</text>
<rect x="621" y="391" width="17" height="29" fill="none" stroke="#444" stroke-width="1"/>
<path d="M638,393 Q668,405.5 638,418" fill="none" stroke="#444" stroke-width="1"/>
<line x1="619.8" y1="367" x2="619.8" y2="444" stroke="#666" stroke-width="1.0" />
<path d="M714.6,367 A27,27 0 0 0 739.4,394" fill="none" stroke="#444" stroke-width="1"/>
<line x1="722" y1="388" x2="736" y2="373" stroke="#333" stroke-width="1.2" />
<rect x="819.8" y="421" width="24.5" height="29" fill="#fff" stroke="#111" stroke-width="1.5"/>
<text x="832" y="435.5" font-size="19" text-anchor="middle" dominant-baseline="central" fill="#111" transform="rotate(90 832 435.5)">01</text>
<text x="796" y="435" font-size="20.5" text-anchor="middle" font-weight="bold" fill="#111" transform="rotate(90 796 435)" >Előszoba</text>
<text x="775" y="434.7" font-size="15.5" text-anchor="middle" fill="#111" transform="rotate(90 775 434.7)" >kerámia</text>
<text x="754" y="437" font-size="15.5" text-anchor="middle" fill="#111" transform="rotate(90 754 437)" >8,22 m²</text>
<rect x="751.7" y="344" width="71.3" height="7" fill="none" stroke="#444" stroke-width="1"/>
<path d="M752,419 A72,72 0 0 0 824,347" fill="none" stroke="#444" stroke-width="1.0"/>
<rect x="752" y="345" width="72" height="4" fill="#fff" stroke="#444" stroke-width="1.0" transform="rotate(90 752 347)"/>
<rect x="842" y="367" width="30" height="84" fill="none" stroke="#444" stroke-width="1"/>
<path d="M842,367 L872,451 M872,367 L842,451" stroke="#444" stroke-width="1"/>
<line x1="827.5" y1="366.4" x2="827.5" y2="1213.3" stroke="#444" stroke-width="1.3" />
<line x1="818.5" y1="366.4" x2="836.5" y2="366.4" stroke="#222" stroke-width="1.0" />
<path d="M824.1,366.4 L827.5,362.8 L830.9,366.4 L827.5,370 Z" fill="#1a1a1a"/>
<line x1="818.5" y1="599.5" x2="836.5" y2="599.5" stroke="#222" stroke-width="1.0" />
<path d="M824.1,599.5 L827.5,595.9 L830.9,599.5 L827.5,603.1 Z" fill="#1a1a1a"/>
<line x1="818.5" y1="607.3" x2="836.5" y2="607.3" stroke="#222" stroke-width="1.0" />
<path d="M824.1,607.3 L827.5,603.7 L830.9,607.3 L827.5,610.9 Z" fill="#1a1a1a"/>
<line x1="818.5" y1="747.1" x2="836.5" y2="747.1" stroke="#222" stroke-width="1.0" />
<path d="M824.1,747.1 L827.5,743.5 L830.9,747.1 L827.5,750.7 Z" fill="#1a1a1a"/>
<line x1="818.5" y1="770.4" x2="836.5" y2="770.4" stroke="#222" stroke-width="1.0" />
<path d="M824.1,770.4 L827.5,766.8 L830.9,770.4 L827.5,774 Z" fill="#1a1a1a"/>
<line x1="818.5" y1="949.1" x2="836.5" y2="949.1" stroke="#222" stroke-width="1.0" />
<path d="M824.1,949.1 L827.5,945.5 L830.9,949.1 L827.5,952.7 Z" fill="#1a1a1a"/>
<line x1="818.5" y1="956.9" x2="836.5" y2="956.9" stroke="#222" stroke-width="1.0" />
<path d="M824.1,956.9 L827.5,953.3 L830.9,956.9 L827.5,960.5 Z" fill="#1a1a1a"/>
<line x1="818.5" y1="1213.3" x2="836.5" y2="1213.3" stroke="#222" stroke-width="1.0" />
<path d="M824.1,1213.3 L827.5,1209.7 L830.9,1213.3 L827.5,1216.9 Z" fill="#1a1a1a"/>
<text x="830.5" y="482.9" font-size="14.5" text-anchor="middle" fill="#111" transform="rotate(90 830.5 482.9)" >3,00</text>
<text x="830.5" y="587.5" font-size="14.5" text-anchor="middle" fill="#111" transform="rotate(90 830.5 587.5)" >10</text>
<text x="830.5" y="677.2" font-size="14.5" text-anchor="middle" fill="#111" transform="rotate(90 830.5 677.2)" >1,80</text>
<text x="830.5" y="751.1" font-size="14.5" text-anchor="middle" fill="#111" transform="rotate(90 830.5 751.1)" >30</text>
<text x="830.5" y="859.8" font-size="14.5" text-anchor="middle" fill="#111" transform="rotate(90 830.5 859.8)" >2,30</text>
<text x="830.5" y="935.1" font-size="14.5" text-anchor="middle" fill="#111" transform="rotate(90 830.5 935.1)" >10</text>
<text x="830.5" y="1085.1" font-size="14.5" text-anchor="middle" fill="#111" transform="rotate(90 830.5 1085.1)" >3,30</text>
<circle cx="745.5" cy="527" r="6.5" fill="#fff" stroke="#111" stroke-width="1.3"/>
<path d="M745.5,527 L752,527 A6.5,6.5 0 0 1 745.5,533.5 Z M745.5,527 L739,527 A6.5,6.5 0 0 1 745.5,520.5 Z" fill="#111"/>
<line x1="734.5" y1="527" x2="756.5" y2="527" stroke="#222" stroke-width="1.0" />
<line x1="745.5" y1="516" x2="745.5" y2="538" stroke="#222" stroke-width="1.0" />
<text x="764" y="560" font-size="14.5" text-anchor="middle" fill="#111" transform="rotate(90 764 560)" >+0,30</text>
<text x="794" y="538" font-size="14.5" text-anchor="middle" fill="#111" >1,50</text>
<line x1="750" y1="543" x2="880" y2="543" stroke="#333" stroke-width="1.0" />
<text x="794" y="558" font-size="14.5" text-anchor="middle" fill="#111" >2,10</text>
<line x1="888" y1="484" x2="888" y2="600" stroke="#444" stroke-width="1.0" />
<line x1="894.5" y1="484" x2="894.5" y2="600" stroke="#444" stroke-width="1.0" />
<path d="M972.5,597.5 A76,76 0 0 0 896.5,521.5" fill="none" stroke="#444" stroke-width="1.0"/>
<rect x="896.5" y="595.8" width="76" height="3.5" fill="#fff" stroke="#444" stroke-width="1.0" transform="rotate(0 896.5 597.5)"/>
<rect x="692.2" y="638" width="24.5" height="29" fill="#fff" stroke="#111" stroke-width="1.5"/>
<text x="704.5" y="652.5" font-size="19" text-anchor="middle" dominant-baseline="central" fill="#111" transform="rotate(90 704.5 652.5)">10</text>
<text x="669" y="652" font-size="20.5" text-anchor="middle" font-weight="bold" fill="#111" transform="rotate(90 669 652)" >Zuhany</text>
<text x="647" y="652" font-size="15.5" text-anchor="middle" fill="#111" transform="rotate(90 647 652)" >kerámia</text>
<text x="627" y="654" font-size="15.5" text-anchor="middle" fill="#111" transform="rotate(90 627 654)" >3,06 m²</text>
<ellipse cx="635" cy="621" rx="22" ry="13" fill="none" stroke="#444" stroke-width="1"/>
<line x1="635" y1="608" x2="635" y2="634" stroke="#444" stroke-width="1.0" />
<rect x="629" y="607.5" width="12" height="5" fill="none" stroke="#444" stroke-width="1"/>
<path d="M622,735 L622,708 A15,15 0 0 1 652,708 L652,735" fill="none" stroke="#444" stroke-width="1"/>
<path d="M627,730 L627,709 A10,10 0 0 1 647,709 L647,730 Z" fill="none" stroke="#444" stroke-width="1"/>
<line x1="608" y1="736" x2="671.6" y2="736" stroke="#444" stroke-width="1.0" />
<path d="M671.6,677.7 L740,677.7" fill="none" stroke="#444" stroke-width="1.0" stroke-dasharray="4 3" stroke-linecap="butt" stroke-linejoin="miter" />
<rect x="673" y="736.5" width="63" height="7" fill="none" stroke="#444" stroke-width="1"/>
<line x1="676" y1="737" x2="676" y2="743" stroke="#444" stroke-width="0.8" />
<line x1="682.1" y1="737" x2="682.1" y2="743" stroke="#444" stroke-width="0.8" />
<line x1="688.2" y1="737" x2="688.2" y2="743" stroke="#444" stroke-width="0.8" />
<line x1="694.3" y1="737" x2="694.3" y2="743" stroke="#444" stroke-width="0.8" />
<line x1="700.4" y1="737" x2="700.4" y2="743" stroke="#444" stroke-width="0.8" />
<line x1="706.5" y1="737" x2="706.5" y2="743" stroke="#444" stroke-width="0.8" />
<line x1="712.6" y1="737" x2="712.6" y2="743" stroke="#444" stroke-width="0.8" />
<line x1="718.7" y1="737" x2="718.7" y2="743" stroke="#444" stroke-width="0.8" />
<line x1="724.8" y1="737" x2="724.8" y2="743" stroke="#444" stroke-width="0.8" />
<line x1="730.9" y1="737" x2="730.9" y2="743" stroke="#444" stroke-width="0.8" />
<line x1="671.6" y1="607" x2="671.6" y2="747" stroke="#666" stroke-width="1.0" />
<rect x="800.8" y="665" width="24.5" height="29" fill="#fff" stroke="#111" stroke-width="1.5"/>
<text x="813" y="679.5" font-size="19" text-anchor="middle" dominant-baseline="central" fill="#111" transform="rotate(90 813 679.5)">09</text>
<text x="783.5" y="680" font-size="20.5" text-anchor="middle" font-weight="bold" fill="#111" transform="rotate(90 783.5 680)" >Kamra</text>
<text x="766" y="679" font-size="15.5" text-anchor="middle" fill="#111" transform="rotate(90 766 679)" >kerámia</text>
<text x="749.5" y="683" font-size="15.5" text-anchor="middle" fill="#111" transform="rotate(90 749.5 683)" >2,88 m²</text>
<rect x="748.4" y="599.9" width="69.4" height="7.4" fill="#fff" stroke="none" stroke-width="1" />
<path d="M752.5,667 A63,63 0 0 0 815.5,604" fill="none" stroke="#444" stroke-width="1.0"/>
<rect x="752.5" y="602.2" width="63" height="3.5" fill="#fff" stroke="#444" stroke-width="1.0" transform="rotate(90 752.5 604)"/>
<path d="M752.5,684 A63,63 0 0 1 815.5,747" fill="none" stroke="#444" stroke-width="1.0"/>
<rect x="752.5" y="745.2" width="63" height="3.5" fill="#fff" stroke="#444" stroke-width="1.0" transform="rotate(270 752.5 747)"/>
<path d="M748,747 L818,747" fill="none" stroke="#444" stroke-width="1.0" stroke-dasharray="9 6" stroke-linecap="butt" stroke-linejoin="miter" />
<path d="M748,770 L818,770" fill="none" stroke="#444" stroke-width="1.0" stroke-dasharray="9 6" stroke-linecap="butt" stroke-linejoin="miter" />
<rect x="751" y="755" width="67" height="7" fill="none" stroke="#444" stroke-width="1"/>
<text x="766" y="632" font-size="14.5" text-anchor="middle" fill="#111" transform="rotate(90 766 632)" >2,10</text>
<text x="788" y="638" font-size="14.5" text-anchor="middle" fill="#111" transform="rotate(90 788 638)" >90</text>
<text x="788" y="717" font-size="14.5" text-anchor="middle" fill="#111" transform="rotate(90 788 717)" >90</text>
<text x="766" y="722" font-size="14.5" text-anchor="middle" fill="#111" transform="rotate(90 766 722)" >2,10</text>
<line x1="841" y1="607.5" x2="841" y2="747" stroke="#555" stroke-width="1.0" />
<line x1="783.3" y1="591.7" x2="783.3" y2="786.7" stroke="#555" stroke-width="1.0" />
<text x="-10.4" y="1418" font-size="25" text-anchor="start" fill="#111" >73m²</text>
<rect x="600.3" y="195.0" width="295.5" height="78.2" fill="none" stroke="#444" stroke-width="1"/>
<line x1="600.3" y1="273.2" x2="600.3" y2="273.2" stroke="#444" stroke-width="1" />
<line x1="624.2" y1="195" x2="624.2" y2="273.2" stroke="#444" stroke-width="1.0" />
<line x1="871.7" y1="195" x2="871.7" y2="273.2" stroke="#444" stroke-width="1.0" />
<line x1="635" y1="195" x2="635" y2="335.3" stroke="#444" stroke-width="1.0" />
<line x1="635" y1="195" x2="635" y2="335.3" stroke="#444" stroke-width="1.0" />
<line x1="654.5" y1="195" x2="654.5" y2="335.3" stroke="#444" stroke-width="1.0" />
<line x1="674" y1="195" x2="674" y2="335.3" stroke="#444" stroke-width="1.0" />
<line x1="693.6" y1="195" x2="693.6" y2="335.3" stroke="#444" stroke-width="1.0" />
<line x1="713.1" y1="195" x2="713.1" y2="335.3" stroke="#444" stroke-width="1.0" />
<line x1="732.6" y1="195" x2="732.6" y2="335.3" stroke="#444" stroke-width="1.0" />
<line x1="752.1" y1="195" x2="752.1" y2="335.3" stroke="#444" stroke-width="1.0" />
<line x1="771.6" y1="195" x2="771.6" y2="335.3" stroke="#444" stroke-width="1.0" />
<line x1="791.2" y1="195" x2="791.2" y2="335.3" stroke="#444" stroke-width="1.0" />
<line x1="810.7" y1="195" x2="810.7" y2="335.3" stroke="#444" stroke-width="1.0" />
<line x1="830.2" y1="195" x2="830.2" y2="335.3" stroke="#444" stroke-width="1.0" />
<line x1="849.7" y1="195" x2="849.7" y2="335.3" stroke="#444" stroke-width="1.0" />
<line x1="869.2" y1="195" x2="869.2" y2="335.3" stroke="#444" stroke-width="1.0" />
<line x1="635" y1="198.5" x2="654.5" y2="198.5" stroke="#444" stroke-width="1.0" />
<line x1="635" y1="226.7" x2="654.5" y2="226.7" stroke="#444" stroke-width="1.0" />
<line x1="635" y1="281.7" x2="654.5" y2="281.7" stroke="#444" stroke-width="1.0" />
<line x1="635" y1="334.2" x2="654.5" y2="334.2" stroke="#444" stroke-width="1.0" />
<line x1="654.5" y1="198.5" x2="674" y2="198.5" stroke="#444" stroke-width="1.0" />
<line x1="654.5" y1="254.2" x2="674" y2="254.2" stroke="#444" stroke-width="1.0" />
<line x1="654.5" y1="308.3" x2="674" y2="308.3" stroke="#444" stroke-width="1.0" />
<line x1="674" y1="198.5" x2="693.6" y2="198.5" stroke="#444" stroke-width="1.0" />
<line x1="674" y1="226.7" x2="693.6" y2="226.7" stroke="#444" stroke-width="1.0" />
<line x1="674" y1="281.7" x2="693.6" y2="281.7" stroke="#444" stroke-width="1.0" />
<line x1="674" y1="334.2" x2="693.6" y2="334.2" stroke="#444" stroke-width="1.0" />
<line x1="693.6" y1="198.5" x2="713.1" y2="198.5" stroke="#444" stroke-width="1.0" />
<line x1="693.6" y1="254.2" x2="713.1" y2="254.2" stroke="#444" stroke-width="1.0" />
<line x1="693.6" y1="308.3" x2="713.1" y2="308.3" stroke="#444" stroke-width="1.0" />
<line x1="713.1" y1="198.5" x2="732.6" y2="198.5" stroke="#444" stroke-width="1.0" />
<line x1="713.1" y1="226.7" x2="732.6" y2="226.7" stroke="#444" stroke-width="1.0" />
<line x1="713.1" y1="281.7" x2="732.6" y2="281.7" stroke="#444" stroke-width="1.0" />
<line x1="713.1" y1="334.2" x2="732.6" y2="334.2" stroke="#444" stroke-width="1.0" />
<line x1="732.6" y1="198.5" x2="752.1" y2="198.5" stroke="#444" stroke-width="1.0" />
<line x1="732.6" y1="254.2" x2="752.1" y2="254.2" stroke="#444" stroke-width="1.0" />
<line x1="732.6" y1="308.3" x2="752.1" y2="308.3" stroke="#444" stroke-width="1.0" />
<line x1="752.1" y1="198.5" x2="771.6" y2="198.5" stroke="#444" stroke-width="1.0" />
<line x1="752.1" y1="226.7" x2="771.6" y2="226.7" stroke="#444" stroke-width="1.0" />
<line x1="752.1" y1="281.7" x2="771.6" y2="281.7" stroke="#444" stroke-width="1.0" />
<line x1="752.1" y1="334.2" x2="771.6" y2="334.2" stroke="#444" stroke-width="1.0" />
<line x1="771.6" y1="198.5" x2="791.2" y2="198.5" stroke="#444" stroke-width="1.0" />
<line x1="771.6" y1="254.2" x2="791.2" y2="254.2" stroke="#444" stroke-width="1.0" />
<line x1="771.6" y1="308.3" x2="791.2" y2="308.3" stroke="#444" stroke-width="1.0" />
<line x1="791.2" y1="198.5" x2="810.7" y2="198.5" stroke="#444" stroke-width="1.0" />
<line x1="791.2" y1="226.7" x2="810.7" y2="226.7" stroke="#444" stroke-width="1.0" />
<line x1="791.2" y1="281.7" x2="810.7" y2="281.7" stroke="#444" stroke-width="1.0" />
<line x1="791.2" y1="334.2" x2="810.7" y2="334.2" stroke="#444" stroke-width="1.0" />
<line x1="810.7" y1="198.5" x2="830.2" y2="198.5" stroke="#444" stroke-width="1.0" />
<line x1="810.7" y1="254.2" x2="830.2" y2="254.2" stroke="#444" stroke-width="1.0" />
<line x1="810.7" y1="308.3" x2="830.2" y2="308.3" stroke="#444" stroke-width="1.0" />
<line x1="830.2" y1="198.5" x2="849.7" y2="198.5" stroke="#444" stroke-width="1.0" />
<line x1="830.2" y1="226.7" x2="849.7" y2="226.7" stroke="#444" stroke-width="1.0" />
<line x1="830.2" y1="281.7" x2="849.7" y2="281.7" stroke="#444" stroke-width="1.0" />
<line x1="830.2" y1="334.2" x2="849.7" y2="334.2" stroke="#444" stroke-width="1.0" />
<line x1="849.7" y1="198.5" x2="869.2" y2="198.5" stroke="#444" stroke-width="1.0" />
<line x1="849.7" y1="254.2" x2="869.2" y2="254.2" stroke="#444" stroke-width="1.0" />
<line x1="849.7" y1="308.3" x2="869.2" y2="308.3" stroke="#444" stroke-width="1.0" />
<path d="M635,273.3 L864.7,273.3" fill="none" stroke="#444" stroke-width="1.0" stroke-dasharray="9 6" stroke-linecap="butt" stroke-linejoin="miter" />
<path d="M635,312.5 L864.7,312.5" fill="none" stroke="#444" stroke-width="1.0" stroke-dasharray="9 6" stroke-linecap="butt" stroke-linejoin="miter" />
<path d="M608,220 L623,235 L608,250 Z" fill="none" stroke="#444" stroke-width="1"/>
<path d="M880,220 L873,235 L880,250 Z" fill="none" stroke="#444" stroke-width="1"/>
<circle cx="600.5" cy="235" r="2.2" fill="#fff" stroke="#444" stroke-width="0.9"/>
<circle cx="895.5" cy="235" r="2.2" fill="#fff" stroke="#444" stroke-width="0.9"/>
<text x="840.5" y="254" font-size="20.5" text-anchor="middle" font-weight="bold" fill="#111" transform="rotate(90 840.5 254)" >Belépő</text>
<text x="820.5" y="253.5" font-size="15.5" text-anchor="middle" fill="#111" transform="rotate(90 820.5 253.5)" >fagyálló kerámia</text>
<text x="805.5" y="256" font-size="15.5" text-anchor="middle" fill="#111" transform="rotate(90 805.5 256)" >5,60 m²</text>
<text x="791.5" y="272" font-size="14.5" text-anchor="middle" fill="#111" transform="rotate(90 791.5 272)" >1,00</text>
<line x1="786.7" y1="226.7" x2="786.7" y2="373" stroke="#555" stroke-width="1.0" />
<text x="770.5" y="271" font-size="14.5" text-anchor="middle" fill="#111" transform="rotate(90 770.5 271)" >2,40</text>
<text x="683.5" y="250.5" font-size="14.5" text-anchor="middle" fill="#111" transform="rotate(90 683.5 250.5)" >60</text>
<text x="661" y="250.5" font-size="14.5" text-anchor="middle" fill="#111" transform="rotate(90 661 250.5)" >60</text>
<line x1="677.8" y1="235" x2="677.8" y2="335" stroke="#555" stroke-width="1.0" />
<text x="753.5" y="194.5" font-size="14.5" text-anchor="middle" fill="#111" transform="rotate(90 753.5 194.5)" >3,00</text>
<text x="731" y="194.5" font-size="14.5" text-anchor="middle" fill="#111" transform="rotate(90 731 194.5)" >2,40</text>
<line x1="748.3" y1="172.5" x2="748.3" y2="320" stroke="#555" stroke-width="1.0" />
<text x="466" y="258" font-size="14.5" text-anchor="middle" fill="#111" >dilatált tereplépcső</text>
<line x1="531" y1="253" x2="605" y2="253" stroke="#333" stroke-width="1.0" />
<path d="M598,249.5 L606,253 L598,256.5 Z" fill="#111"/>
<circle cx="427.5" cy="178.5" r="6.5" fill="#fff" stroke="#111" stroke-width="1.3"/>
<path d="M427.5,178.5 L434,178.5 A6.5,6.5 0 0 1 427.5,185 Z M427.5,178.5 L421,178.5 A6.5,6.5 0 0 1 427.5,172 Z" fill="#111"/>
<line x1="416.5" y1="178.5" x2="438.5" y2="178.5" stroke="#222" stroke-width="1.0" />
<line x1="427.5" y1="167.5" x2="427.5" y2="189.5" stroke="#222" stroke-width="1.0" />
<text x="438.5" y="189" font-size="14.5" text-anchor="middle" fill="#111" transform="rotate(90 438.5 189)" >+-0,00</text>
<rect x="896.4" y="350.8" width="45.9" height="105" fill="none" stroke="#444" stroke-width="1"/>
<line x1="896.4" y1="350.8" x2="1156" y2="350.8" stroke="#444" stroke-width="1.0" />
<rect x="898.6" y="353" width="36" height="34" rx="2" fill="none" stroke="#444" stroke-width="1"/>
<circle cx="907" cy="362" r="5.5" fill="none" stroke="#444" stroke-width="1"/>
<circle cx="924" cy="362" r="7" fill="none" stroke="#444" stroke-width="1"/>
<circle cx="907" cy="379" r="6.5" fill="none" stroke="#444" stroke-width="1"/>
<circle cx="924" cy="379" r="5.5" fill="none" stroke="#444" stroke-width="1"/>
<circle cx="939" cy="366.0" r="1.6" fill="none" stroke="#444" stroke-width="0.8"/>
<circle cx="939" cy="370.5" r="1.6" fill="none" stroke="#444" stroke-width="0.8"/>
<circle cx="939" cy="375.0" r="1.6" fill="none" stroke="#444" stroke-width="0.8"/>
<circle cx="939" cy="379.5" r="1.6" fill="none" stroke="#444" stroke-width="0.8"/>
<circle cx="939" cy="384.0" r="1.6" fill="none" stroke="#444" stroke-width="0.8"/>
<line x1="896.4" y1="391" x2="942.3" y2="391" stroke="#444" stroke-width="1.0" />
<line x1="896.4" y1="408.8" x2="942.3" y2="408.8" stroke="#444" stroke-width="1.0" />
<text x="915" y="432" font-size="12" text-anchor="middle" fill="#111" transform="rotate(90 915 432)" >H</text>
<rect x="1109.7" y="350.8" width="46.3" height="107.2" fill="none" stroke="#444" stroke-width="1"/>
<rect x="1113" y="354" width="31.7" height="27.4" fill="none" stroke="#444" stroke-width="1"/>
<rect x="1113" y="390" width="31.7" height="21" fill="none" stroke="#444" stroke-width="1"/>
<line x1="1116" y1="392" x2="1116" y2="409" stroke="#444" stroke-width="1.0" />
<line x1="1121" y1="392" x2="1121" y2="409" stroke="#444" stroke-width="1.0" />
<line x1="1126" y1="392" x2="1126" y2="409" stroke="#444" stroke-width="1.0" />
<line x1="1131" y1="392" x2="1131" y2="409" stroke="#444" stroke-width="1.0" />
<line x1="1136" y1="392" x2="1136" y2="409" stroke="#444" stroke-width="1.0" />
<line x1="1141" y1="392" x2="1141" y2="409" stroke="#444" stroke-width="1.0" />
<line x1="1107" y1="411.5" x2="1156" y2="411.5" stroke="#444" stroke-width="1.0" />
<rect x="1134" y="380" width="12" height="3" fill="#333"/>
<rect x="1037.2" y="387.5" width="24.5" height="29" fill="#fff" stroke="#111" stroke-width="1.5"/>
<text x="1049.5" y="402" font-size="19" text-anchor="middle" dominant-baseline="central" fill="#111" transform="rotate(90 1049.5 402)">03</text>
<text x="1014" y="403" font-size="20.5" text-anchor="middle" font-weight="bold" fill="#111" transform="rotate(90 1014 403)" >Konyha</text>
<text x="992.5" y="402.8" font-size="15.5" text-anchor="middle" fill="#111" transform="rotate(90 992.5 402.8)" >kerámia</text>
<text x="973" y="405.5" font-size="15.5" text-anchor="middle" fill="#111" transform="rotate(90 973 405.5)" >6,58 m²</text>
<line x1="896.4" y1="342.7" x2="1587.9" y2="342.7" stroke="#444" stroke-width="1.3" />
<line x1="896.4" y1="333.7" x2="896.4" y2="351.7" stroke="#222" stroke-width="1.0" />
<path d="M893,342.7 L896.4,339.1 L899.8,342.7 L896.4,346.3 Z" fill="#1a1a1a"/>
<line x1="988.1" y1="333.7" x2="988.1" y2="351.7" stroke="#222" stroke-width="1.0" />
<path d="M984.7,342.7 L988.1,339.1 L991.5,342.7 L988.1,346.3 Z" fill="#1a1a1a"/>
<line x1="1065.8" y1="333.7" x2="1065.8" y2="351.7" stroke="#222" stroke-width="1.0" />
<path d="M1062.4,342.7 L1065.8,339.1 L1069.2,342.7 L1065.8,346.3 Z" fill="#1a1a1a"/>
<line x1="1152.8" y1="333.7" x2="1152.8" y2="351.7" stroke="#222" stroke-width="1.0" />
<path d="M1149.4,342.7 L1152.8,339.1 L1156.2,342.7 L1152.8,346.3 Z" fill="#1a1a1a"/>
<line x1="1300.4" y1="333.7" x2="1300.4" y2="351.7" stroke="#222" stroke-width="1.0" />
<path d="M1297,342.7 L1300.4,339.1 L1303.8,342.7 L1300.4,346.3 Z" fill="#1a1a1a"/>
<line x1="1420.9" y1="333.7" x2="1420.9" y2="351.7" stroke="#222" stroke-width="1.0" />
<path d="M1417.5,342.7 L1420.9,339.1 L1424.3,342.7 L1420.9,346.3 Z" fill="#1a1a1a"/>
<line x1="1568.5" y1="333.7" x2="1568.5" y2="351.7" stroke="#222" stroke-width="1.0" />
<path d="M1565.1,342.7 L1568.5,339.1 L1571.9,342.7 L1568.5,346.3 Z" fill="#1a1a1a"/>
<line x1="1587.9" y1="333.7" x2="1587.9" y2="351.7" stroke="#222" stroke-width="1.0" />
<path d="M1584.5,342.7 L1587.9,339.1 L1591.3,342.7 L1587.9,346.3 Z" fill="#1a1a1a"/>
<text x="942.2" y="340.7" font-size="14.5" text-anchor="middle" fill="#111" >1,18</text>
<text x="1026.9" y="340.7" font-size="14.5" text-anchor="middle" fill="#111" >1,00</text>
<text x="1109.3" y="340.7" font-size="14.5" text-anchor="middle" fill="#111" >1,12</text>
<text x="1226.6" y="340.7" font-size="14.5" text-anchor="middle" fill="#111" >1,90</text>
<text x="1360.7" y="340.7" font-size="14.5" text-anchor="middle" fill="#111" >1,55</text>
<text x="1494.7" y="340.7" font-size="14.5" text-anchor="middle" fill="#111" >1,90</text>
<text x="1578.5" y="340.7" font-size="14.5" text-anchor="middle" fill="#111" >25</text>
<line x1="1026.1" y1="172.4" x2="1026.1" y2="330" stroke="#333" stroke-width="1.0" />
<text x="1010.6" y="181" font-size="14.5" text-anchor="start" fill="#111" transform="rotate(90 1010.6 181)" >1,50</text>
<text x="1029.6" y="181" font-size="14.5" text-anchor="start" fill="#111" transform="rotate(90 1029.6 181)" >90</text>
<text x="1026.1" y="328" font-size="14.5" text-anchor="middle" fill="#111" >pm 90</text>
<line x1="1225.7" y1="172.4" x2="1225.7" y2="330" stroke="#333" stroke-width="1.0" />
<text x="1210.2" y="181" font-size="14.5" text-anchor="start" fill="#111" transform="rotate(90 1210.2 181)" >2,40</text>
<text x="1229.2" y="181" font-size="14.5" text-anchor="start" fill="#111" transform="rotate(90 1229.2 181)" >1,80</text>
<text x="1225.7" y="328" font-size="14.5" text-anchor="middle" fill="#111" >pm 0</text>
<line x1="1493.7" y1="172.4" x2="1493.7" y2="330" stroke="#333" stroke-width="1.0" />
<text x="1478.2" y="181" font-size="14.5" text-anchor="start" fill="#111" transform="rotate(90 1478.2 181)" >2,40</text>
<text x="1497.2" y="181" font-size="14.5" text-anchor="start" fill="#111" transform="rotate(90 1497.2 181)" >1,80</text>
<text x="1493.7" y="328" font-size="14.5" text-anchor="middle" fill="#111" >pm 0</text>
<circle cx="1333.5" cy="243" r="6.5" fill="#fff" stroke="#111" stroke-width="1.3"/>
<path d="M1333.5,243 L1340,243 A6.5,6.5 0 0 1 1333.5,249.5 Z M1333.5,243 L1327,243 A6.5,6.5 0 0 1 1333.5,236.5 Z" fill="#111"/>
<line x1="1322.5" y1="243" x2="1344.5" y2="243" stroke="#222" stroke-width="1.0" />
<line x1="1333.5" y1="232" x2="1333.5" y2="254" stroke="#222" stroke-width="1.0" />
<text x="1348" y="246.5" font-size="14.5" text-anchor="middle" fill="#111" transform="rotate(90 1348 246.5)" >+-0,00</text>
<line x1="1156.1" y1="304.3" x2="1156.1" y2="350.8" stroke="#444" stroke-width="1.0" />
<rect x="1277.2" y="644.1" width="24.5" height="29" fill="#fff" stroke="#111" stroke-width="1.5"/>
<text x="1289.5" y="658.6" font-size="19" text-anchor="middle" dominant-baseline="central" fill="#111" transform="rotate(90 1289.5 658.6)">02</text>
<text x="1253" y="663" font-size="20.5" text-anchor="middle" font-weight="bold" fill="#111" transform="rotate(90 1253 663)" >Nappali</text>
<text x="1233" y="661.6" font-size="15.5" text-anchor="middle" fill="#111" transform="rotate(90 1233 661.6)" >kerámia</text>
<text x="1212" y="663" font-size="15.5" text-anchor="middle" fill="#111" transform="rotate(90 1212 663)" >44,15 m²</text>
<line x1="896" y1="713" x2="1587.5" y2="713" stroke="#444" stroke-width="1.3" />
<line x1="896" y1="704" x2="896" y2="722" stroke="#222" stroke-width="1.0" />
<path d="M892.6,713 L896,709.4 L899.4,713 L896,716.6 Z" fill="#1a1a1a"/>
<line x1="1020.3" y1="704" x2="1020.3" y2="722" stroke="#222" stroke-width="1.0" />
<path d="M1016.9,713 L1020.3,709.4 L1023.7,713 L1020.3,716.6 Z" fill="#1a1a1a"/>
<line x1="1105.8" y1="704" x2="1105.8" y2="722" stroke="#222" stroke-width="1.0" />
<path d="M1102.4,713 L1105.8,709.4 L1109.2,713 L1105.8,716.6 Z" fill="#1a1a1a"/>
<line x1="1490.4" y1="704" x2="1490.4" y2="722" stroke="#222" stroke-width="1.0" />
<path d="M1487,713 L1490.4,709.4 L1493.8,713 L1490.4,716.6 Z" fill="#1a1a1a"/>
<line x1="1568.1" y1="704" x2="1568.1" y2="722" stroke="#222" stroke-width="1.0" />
<path d="M1564.7,713 L1568.1,709.4 L1571.5,713 L1568.1,716.6 Z" fill="#1a1a1a"/>
<line x1="1587.5" y1="704" x2="1587.5" y2="722" stroke="#222" stroke-width="1.0" />
<path d="M1584.1,713 L1587.5,709.4 L1590.9,713 L1587.5,716.6 Z" fill="#1a1a1a"/>
<text x="958.2" y="711" font-size="14.5" text-anchor="middle" fill="#111" >1,60</text>
<text x="1063.1" y="711" font-size="14.5" text-anchor="middle" fill="#111" >1,10</text>
<text x="1298.1" y="711" font-size="14.5" text-anchor="middle" fill="#111" >4,95</text>
<text x="1529.3" y="711" font-size="14.5" text-anchor="middle" fill="#111" >1,00</text>
<text x="1578.1" y="711" font-size="14.5" text-anchor="middle" fill="#111" >25</text>
<text x="1089" y="674" font-size="14.5" text-anchor="middle" fill="#111" transform="rotate(90 1089 674)" >60/120 padlásfeljáró</text>
<line x1="1063.7" y1="713" x2="1063.7" y2="858" stroke="#555" stroke-width="1.0" />
<path d="M1095,738 L1095,825 L1077,843" fill="none" stroke="#555" stroke-width="1.0" stroke-linecap="butt" stroke-linejoin="miter" />
<circle cx="1040.5" cy="523.5" r="6.5" fill="#fff" stroke="#111" stroke-width="1.3"/>
<path d="M1040.5,523.5 L1047,523.5 A6.5,6.5 0 0 1 1040.5,530 Z M1040.5,523.5 L1034,523.5 A6.5,6.5 0 0 1 1040.5,517 Z" fill="#111"/>
<line x1="1029.5" y1="523.5" x2="1051.5" y2="523.5" stroke="#222" stroke-width="1.0" />
<line x1="1040.5" y1="512.5" x2="1040.5" y2="534.5" stroke="#222" stroke-width="1.0" />
<text x="1053" y="557" font-size="14.5" text-anchor="middle" fill="#111" transform="rotate(90 1053 557)" >+0,30</text>
<circle cx="1486.5" cy="523.5" r="6.5" fill="#fff" stroke="#111" stroke-width="1.3"/>
<path d="M1486.5,523.5 L1493,523.5 A6.5,6.5 0 0 1 1486.5,530 Z M1486.5,523.5 L1480,523.5 A6.5,6.5 0 0 1 1486.5,517 Z" fill="#111"/>
<line x1="1475.5" y1="523.5" x2="1497.5" y2="523.5" stroke="#222" stroke-width="1.0" />
<line x1="1486.5" y1="512.5" x2="1486.5" y2="534.5" stroke="#222" stroke-width="1.0" />
<text x="1500.5" y="557" font-size="14.5" text-anchor="middle" fill="#111" transform="rotate(90 1500.5 557)" >+0,30</text>
<line x1="1337.2" y1="304.3" x2="1337.2" y2="747.2" stroke="#444" stroke-width="1.3" />
<line x1="1328.2" y1="304.3" x2="1346.2" y2="304.3" stroke="#222" stroke-width="1.0" />
<path d="M1333.8,304.3 L1337.2,300.7 L1340.6,304.3 L1337.2,307.9 Z" fill="#1a1a1a"/>
<line x1="1328.2" y1="316" x2="1346.2" y2="316" stroke="#222" stroke-width="1.0" />
<path d="M1333.8,316 L1337.2,312.4 L1340.6,316 L1337.2,319.6 Z" fill="#1a1a1a"/>
<line x1="1328.2" y1="463.6" x2="1346.2" y2="463.6" stroke="#222" stroke-width="1.0" />
<path d="M1333.8,463.6 L1337.2,460 L1340.6,463.6 L1337.2,467.2 Z" fill="#1a1a1a"/>
<line x1="1328.2" y1="587.9" x2="1346.2" y2="587.9" stroke="#222" stroke-width="1.0" />
<path d="M1333.8,587.9 L1337.2,584.3 L1340.6,587.9 L1337.2,591.5 Z" fill="#1a1a1a"/>
<line x1="1328.2" y1="735.5" x2="1346.2" y2="735.5" stroke="#222" stroke-width="1.0" />
<path d="M1333.8,735.5 L1337.2,731.9 L1340.6,735.5 L1337.2,739.1 Z" fill="#1a1a1a"/>
<line x1="1328.2" y1="747.2" x2="1346.2" y2="747.2" stroke="#222" stroke-width="1.0" />
<path d="M1333.8,747.2 L1337.2,743.6 L1340.6,747.2 L1337.2,750.8 Z" fill="#1a1a1a"/>
<text x="1340.2" y="298.3" font-size="14.5" text-anchor="middle" fill="#111" transform="rotate(90 1340.2 298.3)" >15</text>
<text x="1340.2" y="389.8" font-size="14.5" text-anchor="middle" fill="#111" transform="rotate(90 1340.2 389.8)" >1,90</text>
<text x="1340.2" y="525.7" font-size="14.5" text-anchor="middle" fill="#111" transform="rotate(90 1340.2 525.7)" >1,60</text>
<text x="1340.2" y="661.7" font-size="14.5" text-anchor="middle" fill="#111" transform="rotate(90 1340.2 661.7)" >1,90</text>
<text x="1340.2" y="723.5" font-size="14.5" text-anchor="middle" fill="#111" transform="rotate(90 1340.2 723.5)" >15</text>
<line x1="1553.7" y1="304.3" x2="1553.7" y2="747.2" stroke="#444" stroke-width="1.3" />
<line x1="1544.7" y1="304.3" x2="1562.7" y2="304.3" stroke="#222" stroke-width="1.0" />
<path d="M1550.3,304.3 L1553.7,300.7 L1557.1,304.3 L1553.7,307.9 Z" fill="#1a1a1a"/>
<line x1="1544.7" y1="316" x2="1562.7" y2="316" stroke="#222" stroke-width="1.0" />
<path d="M1550.3,316 L1553.7,312.4 L1557.1,316 L1553.7,319.6 Z" fill="#1a1a1a"/>
<line x1="1544.7" y1="463.6" x2="1562.7" y2="463.6" stroke="#222" stroke-width="1.0" />
<path d="M1550.3,463.6 L1553.7,460 L1557.1,463.6 L1553.7,467.2 Z" fill="#1a1a1a"/>
<line x1="1544.7" y1="587.9" x2="1562.7" y2="587.9" stroke="#222" stroke-width="1.0" />
<path d="M1550.3,587.9 L1553.7,584.3 L1557.1,587.9 L1553.7,591.5 Z" fill="#1a1a1a"/>
<line x1="1544.7" y1="735.5" x2="1562.7" y2="735.5" stroke="#222" stroke-width="1.0" />
<path d="M1550.3,735.5 L1553.7,731.9 L1557.1,735.5 L1553.7,739.1 Z" fill="#1a1a1a"/>
<line x1="1544.7" y1="747.2" x2="1562.7" y2="747.2" stroke="#222" stroke-width="1.0" />
<path d="M1550.3,747.2 L1553.7,743.6 L1557.1,747.2 L1553.7,750.8 Z" fill="#1a1a1a"/>
<text x="1556.7" y="298.3" font-size="14.5" text-anchor="middle" fill="#111" transform="rotate(90 1556.7 298.3)" >15</text>
<text x="1556.7" y="389.8" font-size="14.5" text-anchor="middle" fill="#111" transform="rotate(90 1556.7 389.8)" >1,90</text>
<text x="1556.7" y="525.7" font-size="14.5" text-anchor="middle" fill="#111" transform="rotate(90 1556.7 525.7)" >1,60</text>
<text x="1556.7" y="661.7" font-size="14.5" text-anchor="middle" fill="#111" transform="rotate(90 1556.7 661.7)" >1,90</text>
<text x="1556.7" y="723.5" font-size="14.5" text-anchor="middle" fill="#111" transform="rotate(90 1556.7 723.5)" >15</text>
<line x1="1337.2" y1="747.2" x2="1337.2" y2="1213.4" stroke="#444" stroke-width="1.3" />
<line x1="1328.2" y1="747.2" x2="1346.2" y2="747.2" stroke="#222" stroke-width="1.0" />
<path d="M1333.8,747.2 L1337.2,743.6 L1340.6,747.2 L1337.2,750.8 Z" fill="#1a1a1a"/>
<line x1="1328.2" y1="817.1" x2="1346.2" y2="817.1" stroke="#222" stroke-width="1.0" />
<path d="M1333.8,817.1 L1337.2,813.5 L1340.6,817.1 L1337.2,820.7 Z" fill="#1a1a1a"/>
<line x1="1328.2" y1="941.5" x2="1346.2" y2="941.5" stroke="#222" stroke-width="1.0" />
<path d="M1333.8,941.5 L1337.2,937.9 L1340.6,941.5 L1337.2,945.1 Z" fill="#1a1a1a"/>
<line x1="1328.2" y1="1042.5" x2="1346.2" y2="1042.5" stroke="#222" stroke-width="1.0" />
<path d="M1333.8,1042.5 L1337.2,1038.9 L1340.6,1042.5 L1337.2,1046.1 Z" fill="#1a1a1a"/>
<line x1="1328.2" y1="1166.8" x2="1346.2" y2="1166.8" stroke="#222" stroke-width="1.0" />
<path d="M1333.8,1166.8 L1337.2,1163.2 L1340.6,1166.8 L1337.2,1170.4 Z" fill="#1a1a1a"/>
<line x1="1328.2" y1="1213.4" x2="1346.2" y2="1213.4" stroke="#222" stroke-width="1.0" />
<path d="M1333.8,1213.4 L1337.2,1209.8 L1340.6,1213.4 L1337.2,1217 Z" fill="#1a1a1a"/>
<text x="1340.2" y="782.2" font-size="14.5" text-anchor="middle" fill="#111" transform="rotate(90 1340.2 782.2)" >90</text>
<text x="1340.2" y="879.3" font-size="14.5" text-anchor="middle" fill="#111" transform="rotate(90 1340.2 879.3)" >1,60</text>
<text x="1340.2" y="992" font-size="14.5" text-anchor="middle" fill="#111" transform="rotate(90 1340.2 992)" >1,30</text>
<text x="1340.2" y="1104.6" font-size="14.5" text-anchor="middle" fill="#111" transform="rotate(90 1340.2 1104.6)" >1,60</text>
<text x="1340.2" y="1190.1" font-size="14.5" text-anchor="middle" fill="#111" transform="rotate(90 1340.2 1190.1)" >60</text>
<text x="1531" y="733.6" font-size="14.5" text-anchor="middle" fill="#111" >pm 0</text>
<rect x="1618.3" y="592" width="47" height="139.4" fill="none" stroke="#444" stroke-width="1"/>
<line x1="1641.8" y1="592" x2="1641.8" y2="731.4" stroke="#444" stroke-width="1.0" />
<path d="M1587.5,596 L1587.5,731" fill="none" stroke="#444" stroke-width="1.0" stroke-dasharray="9 6" stroke-linecap="butt" stroke-linejoin="miter" />
<path d="M1617.6,596 L1617.6,731" fill="none" stroke="#444" stroke-width="1.0" stroke-dasharray="9 6" stroke-linecap="butt" stroke-linejoin="miter" />
<path d="M1532.9,596.4 A68.5,68.5 0 0 0 1582.5,662.2" fill="none" stroke="#444" stroke-width="1.0"/>
<rect x="1601.4" y="594.6" width="68.5" height="3.5" fill="#fff" stroke="#444" stroke-width="1.0" transform="rotate(180 1601.4 596.4)"/>
<line x1="1608" y1="592" x2="1608" y2="664" stroke="#444" stroke-width="1.0" />
<rect x="1601.4" y="664" width="3.2" height="64.5" fill="#999" stroke="#444" stroke-width="0.8"/>
<line x1="1575" y1="661.7" x2="1720" y2="661.7" stroke="#333" stroke-width="1.0" />
<text x="1652" y="655.8" font-size="14.5" text-anchor="middle" fill="#111" >1,80</text>
<text x="1652" y="678.6" font-size="14.5" text-anchor="middle" fill="#111" >2,40</text>
<circle cx="1665.3" cy="661.7" r="4.4" fill="none" stroke="#444" stroke-width="0.9"/>
<circle cx="1688" cy="704.3" r="6.5" fill="#fff" stroke="#111" stroke-width="1.3"/>
<path d="M1688,704.3 L1694.5,704.3 A6.5,6.5 0 0 1 1688,710.8 Z M1688,704.3 L1681.5,704.3 A6.5,6.5 0 0 1 1688,697.8 Z" fill="#111"/>
<line x1="1677" y1="704.3" x2="1699" y2="704.3" stroke="#222" stroke-width="1.0" />
<line x1="1688" y1="693.3" x2="1688" y2="715.3" stroke="#222" stroke-width="1.0" />
<text x="1702" y="705" font-size="14.5" text-anchor="middle" fill="#111" transform="rotate(90 1702 705)" >+-0,00</text>
<line x1="1600" y1="389.8" x2="1700" y2="389.8" stroke="#333" stroke-width="1.0" />
<text x="1652" y="384" font-size="14.5" text-anchor="middle" fill="#111" >1,80</text>
<text x="1652" y="407" font-size="14.5" text-anchor="middle" fill="#111" >2,40</text>
<text x="1558" y="390" font-size="14.5" text-anchor="middle" fill="#111" transform="rotate(90 1558 390)" >pm 0</text>
<rect x="1012.4" y="770.3" width="7.6" height="87.7" fill="#111" stroke="none" stroke-width="1" />
<rect x="1012.4" y="914.3" width="7.6" height="88.7" fill="#111" stroke="none" stroke-width="1" />
<rect x="1012.4" y="1064" width="7.6" height="10" fill="#111" stroke="none" stroke-width="1" />
<rect x="1012.4" y="1066.5" width="100.6" height="7.5" fill="#111" stroke="none" stroke-width="1" />
<rect x="1105.5" y="770.3" width="7.8" height="80.7" fill="#111" stroke="none" stroke-width="1" />
<rect x="1105.5" y="920.3" width="7.8" height="75.7" fill="#111" stroke="none" stroke-width="1" />
<rect x="1105.5" y="1064" width="7.8" height="149.3" fill="#111" stroke="none" stroke-width="1" />
<rect x="1113.3" y="987.9" width="333.9" height="7.8" fill="#111" stroke="none" stroke-width="1" />
<rect x="895.7" y="948" width="116.7" height="9" fill="#111" stroke="none" stroke-width="1" />
<line x1="1012.9" y1="858" x2="1012.9" y2="914.3" stroke="#444" stroke-width="1.0" />
<line x1="1019.5" y1="858" x2="1019.5" y2="914.3" stroke="#444" stroke-width="1.0" />
<line x1="1106" y1="851" x2="1106" y2="920.3" stroke="#444" stroke-width="1.0" />
<line x1="1112.8" y1="851" x2="1112.8" y2="920.3" stroke="#444" stroke-width="1.0" />
<line x1="1012.9" y1="1003" x2="1012.9" y2="1064" stroke="#444" stroke-width="1.0" />
<line x1="1019.5" y1="1003" x2="1019.5" y2="1064" stroke="#444" stroke-width="1.0" />
<line x1="1106" y1="996" x2="1106" y2="1064" stroke="#444" stroke-width="1.0" />
<line x1="1112.8" y1="996" x2="1112.8" y2="1064" stroke="#444" stroke-width="1.0" />
<path d="M1072.5,909.5 A53,53 0 0 0 1019.5,856.5" fill="none" stroke="#444" stroke-width="1.0"/>
<rect x="1019.5" y="907.8" width="53" height="3.5" fill="#fff" stroke="#444" stroke-width="1.0" transform="rotate(0 1019.5 909.5)"/>
<path d="M1177.3,916.5 A64,64 0 0 0 1113.3,852.5" fill="none" stroke="#444" stroke-width="1.0"/>
<rect x="1113.3" y="914.8" width="64" height="3.5" fill="#fff" stroke="#444" stroke-width="1.0" transform="rotate(0 1113.3 916.5)"/>
<path d="M1072.5,1058.5 A53,53 0 0 0 1019.5,1005.5" fill="none" stroke="#444" stroke-width="1.0"/>
<rect x="1019.5" y="1056.8" width="53" height="3.5" fill="#fff" stroke="#444" stroke-width="1.0" transform="rotate(0 1019.5 1058.5)"/>
<path d="M1177.3,1063 A64,64 0 0 0 1113.3,999" fill="none" stroke="#444" stroke-width="1.0"/>
<rect x="1113.3" y="1061.2" width="64" height="3.5" fill="#fff" stroke="#444" stroke-width="1.0" transform="rotate(0 1113.3 1063)"/>
<line x1="1005" y1="884.8" x2="1082" y2="884.8" stroke="#333" stroke-width="1.0" />
<text x="1033" y="878.8" font-size="14.5" text-anchor="middle" fill="#111" >75</text>
<text x="1030" y="902.8" font-size="14.5" text-anchor="middle" fill="#111" >2,10</text>
<line x1="1098" y1="884.8" x2="1175" y2="884.8" stroke="#333" stroke-width="1.0" />
<text x="1143" y="878.8" font-size="14.5" text-anchor="middle" fill="#111" >90</text>
<text x="1138" y="902.8" font-size="14.5" text-anchor="middle" fill="#111" >2,10</text>
<line x1="1004" y1="1032" x2="1082" y2="1032" stroke="#333" stroke-width="1.0" />
<text x="1048" y="1026" font-size="14.5" text-anchor="middle" fill="#111" >75</text>
<text x="1045" y="1050" font-size="14.5" text-anchor="middle" fill="#111" >2,10</text>
<line x1="1098" y1="1032" x2="1175" y2="1032" stroke="#333" stroke-width="1.0" />
<text x="1143" y="1026" font-size="14.5" text-anchor="middle" fill="#111" >90</text>
<text x="1138" y="1050" font-size="14.5" text-anchor="middle" fill="#111" >2,10</text>
<rect x="1040" y="845.8" width="46.7" height="92.7" fill="none" stroke="#555" stroke-width="1" stroke-dasharray="7 5"/>
<path d="M1052,850 L1066,935" fill="none" stroke="#555" stroke-width="1.0" stroke-dasharray="7 5" stroke-linecap="butt" stroke-linejoin="miter" />
<path d="M1064,850 L1080,935" fill="none" stroke="#555" stroke-width="1.0" stroke-dasharray="7 5" stroke-linecap="butt" stroke-linejoin="miter" />
<text x="1046.5" y="795" font-size="14.5" text-anchor="middle" fill="#111" transform="rotate(90 1046.5 795)" >2,10</text>
<text x="1068" y="795" font-size="14.5" text-anchor="middle" fill="#111" transform="rotate(90 1068 795)" >1,10</text>
<path d="M1020,747 L1105,747" fill="none" stroke="#444" stroke-width="1.0" stroke-dasharray="9 6" stroke-linecap="butt" stroke-linejoin="miter" />
<path d="M1020,770.3 L1105,770.3" fill="none" stroke="#444" stroke-width="1.0" stroke-dasharray="9 6" stroke-linecap="butt" stroke-linejoin="miter" />
<rect x="937" y="791" width="30" height="25" fill="#fff" stroke="#111" stroke-width="1.5"/>
<text x="952" y="803.5" font-size="19" text-anchor="middle" dominant-baseline="central" fill="#111" transform="rotate(0 952 803.5)">08</text>
<text x="952.5" y="840" font-size="20.5" text-anchor="middle" font-weight="bold" fill="#111" >Háztartási</text>
<text x="952" y="862" font-size="15.5" text-anchor="middle" fill="#111" >kerámia</text>
<text x="955" y="882" font-size="15.5" text-anchor="middle" fill="#111" >3,45 m²</text>
<rect x="1082.2" y="966" width="24.5" height="29" fill="#fff" stroke="#111" stroke-width="1.5"/>
<text x="1094.5" y="980.5" font-size="19" text-anchor="middle" dominant-baseline="central" fill="#111" transform="rotate(90 1094.5 980.5)">04</text>
<text x="1058" y="977" font-size="20.5" text-anchor="middle" font-weight="bold" fill="#111" transform="rotate(90 1058 977)" >Közlekedő</text>
<text x="1037" y="984" font-size="15.5" text-anchor="middle" fill="#111" transform="rotate(90 1037 984)" >kerámia</text>
<text x="1021.5" y="984" font-size="15.5" text-anchor="middle" fill="#111" transform="rotate(90 1021.5 984)" >4,18 m²</text>
<rect x="980.8" y="1067" width="24.5" height="29" fill="#fff" stroke="#111" stroke-width="1.5"/>
<text x="993" y="1081.5" font-size="19" text-anchor="middle" dominant-baseline="central" fill="#111" transform="rotate(90 993 1081.5)">07</text>
<text x="959.5" y="1081.5" font-size="20.5" text-anchor="middle" font-weight="bold" fill="#111" transform="rotate(90 959.5 1081.5)" >Fürdő</text>
<text x="937.5" y="1081" font-size="15.5" text-anchor="middle" fill="#111" transform="rotate(90 937.5 1081)" >kerámia</text>
<text x="916.5" y="1083" font-size="15.5" text-anchor="middle" fill="#111" transform="rotate(90 916.5 1083)" >7,11 m²</text>
<rect x="1277.2" y="867.5" width="24.5" height="29" fill="#fff" stroke="#111" stroke-width="1.5"/>
<text x="1289.5" y="882" font-size="19" text-anchor="middle" dominant-baseline="central" fill="#111" transform="rotate(90 1289.5 882)">05</text>
<text x="1253" y="882" font-size="20.5" text-anchor="middle" font-weight="bold" fill="#111" transform="rotate(90 1253 882)" >Szoba</text>
<text x="1234.5" y="882" font-size="15.5" text-anchor="middle" fill="#111" transform="rotate(90 1234.5 882)" >laminált parketta</text>
<text x="1213" y="883" font-size="15.5" text-anchor="middle" fill="#111" transform="rotate(90 1213 883)" >12,04 m²</text>
<rect x="1277.2" y="1085.5" width="24.5" height="29" fill="#fff" stroke="#111" stroke-width="1.5"/>
<text x="1289.5" y="1100" font-size="19" text-anchor="middle" dominant-baseline="central" fill="#111" transform="rotate(90 1289.5 1100)">06</text>
<text x="1253" y="1100" font-size="20.5" text-anchor="middle" font-weight="bold" fill="#111" transform="rotate(90 1253 1100)" >Szoba</text>
<text x="1234.5" y="1100" font-size="15.5" text-anchor="middle" fill="#111" transform="rotate(90 1234.5 1100)" >laminált parketta</text>
<text x="1213" y="1101" font-size="15.5" text-anchor="middle" fill="#111" transform="rotate(90 1213 1101)" >12,04 m²</text>
<line x1="1188" y1="770.3" x2="1188" y2="1213.2" stroke="#444" stroke-width="1.3" />
<line x1="1179" y1="770.3" x2="1197" y2="770.3" stroke="#222" stroke-width="1.0" />
<path d="M1184.6,770.3 L1188,766.7 L1191.4,770.3 L1188,773.9 Z" fill="#1a1a1a"/>
<line x1="1179" y1="987.9" x2="1197" y2="987.9" stroke="#222" stroke-width="1.0" />
<path d="M1184.6,987.9 L1188,984.3 L1191.4,987.9 L1188,991.5 Z" fill="#1a1a1a"/>
<line x1="1179" y1="995.6" x2="1197" y2="995.6" stroke="#222" stroke-width="1.0" />
<path d="M1184.6,995.6 L1188,992 L1191.4,995.6 L1188,999.2 Z" fill="#1a1a1a"/>
<line x1="1179" y1="1213.2" x2="1197" y2="1213.2" stroke="#222" stroke-width="1.0" />
<path d="M1184.6,1213.2 L1188,1209.6 L1191.4,1213.2 L1188,1216.8 Z" fill="#1a1a1a"/>
<text x="1191" y="879.1" font-size="14.5" text-anchor="middle" fill="#111" transform="rotate(90 1191 879.1)" >2,80</text>
<text x="1191" y="975.9" font-size="14.5" text-anchor="middle" fill="#111" transform="rotate(90 1191 975.9)" >10</text>
<text x="1191" y="1104.4" font-size="14.5" text-anchor="middle" fill="#111" transform="rotate(90 1191 1104.4)" >2,80</text>
<rect x="897" y="774" width="56" height="26" fill="none" stroke="#444" stroke-width="1"/>
<rect x="900" y="784" width="4" height="12" fill="#111"/>
<rect x="905" y="784" width="4" height="12" fill="#111"/>
<circle cx="925" cy="787" r="4" fill="none" stroke="#222" stroke-width="1.2"/>
<line x1="909" y1="787" x2="921" y2="787" stroke="#222" stroke-width="1.0" />
<line x1="953" y1="774" x2="953" y2="790" stroke="#444" stroke-width="1.0" />
<rect x="896.5" y="901" width="47.5" height="46.5" fill="none" stroke="#444" stroke-width="1"/>
<text x="916" y="924" font-size="12" text-anchor="middle" fill="#111" transform="rotate(90 916 924)" >M</text>
<ellipse cx="954" cy="976" rx="23.5" ry="15" fill="none" stroke="#444" stroke-width="1"/>
<ellipse cx="954" cy="976" rx="21" ry="12.5" fill="none" stroke="#444" stroke-width="0.8"/>
<line x1="896" y1="996" x2="1012" y2="996" stroke="#444" stroke-width="1.0" />
<rect x="970" y="1163" width="132" height="46" rx="20" fill="none" stroke="#444" stroke-width="1"/>
<line x1="966" y1="1159" x2="1105" y2="1159" stroke="#444" stroke-width="1.0" />
<line x1="965.3" y1="1145.5" x2="965.3" y2="1213" stroke="#444" stroke-width="1.0" />
<path d="M896,1145.5 L965.3,1145.5" fill="none" stroke="#444" stroke-width="1.0" stroke-dasharray="4 3" stroke-linecap="butt" stroke-linejoin="miter" />
<rect x="900" y="1201" width="62" height="8" fill="none" stroke="#444" stroke-width="1"/>
<line x1="903" y1="1202" x2="903" y2="1208" stroke="#444" stroke-width="0.8" />
<line x1="908.5" y1="1202" x2="908.5" y2="1208" stroke="#444" stroke-width="0.8" />
<line x1="914" y1="1202" x2="914" y2="1208" stroke="#444" stroke-width="0.8" />
<line x1="919.5" y1="1202" x2="919.5" y2="1208" stroke="#444" stroke-width="0.8" />
<line x1="925" y1="1202" x2="925" y2="1208" stroke="#444" stroke-width="0.8" />
<line x1="930.5" y1="1202" x2="930.5" y2="1208" stroke="#444" stroke-width="0.8" />
<line x1="936" y1="1202" x2="936" y2="1208" stroke="#444" stroke-width="0.8" />
<line x1="941.5" y1="1202" x2="941.5" y2="1208" stroke="#444" stroke-width="0.8" />
<line x1="947" y1="1202" x2="947" y2="1208" stroke="#444" stroke-width="0.8" />
<line x1="952.5" y1="1202" x2="952.5" y2="1208" stroke="#444" stroke-width="0.8" />
<line x1="958" y1="1202" x2="958" y2="1208" stroke="#444" stroke-width="0.8" />
<path d="M1085,1098 L1060,1098 Q1050,1112 1060,1126 L1085,1126 Z" fill="none" stroke="#444" stroke-width="1"/>
<path d="M1082,1102 L1062,1102 Q1055,1112 1062,1122 L1082,1122 Z" fill="none" stroke="#444" stroke-width="0.8"/>
<line x1="1094" y1="1074" x2="1094" y2="1159" stroke="#666" stroke-width="1.0" />
<line x1="896" y1="1133" x2="1113.3" y2="1133" stroke="#444" stroke-width="1.3" />
<line x1="896" y1="1124" x2="896" y2="1142" stroke="#222" stroke-width="1.0" />
<path d="M892.6,1133 L896,1129.4 L899.4,1133 L896,1136.6 Z" fill="#1a1a1a"/>
<line x1="1012.4" y1="1124" x2="1012.4" y2="1142" stroke="#222" stroke-width="1.0" />
<path d="M1009,1133 L1012.4,1129.4 L1015.8,1133 L1012.4,1136.6 Z" fill="#1a1a1a"/>
<line x1="1020" y1="1124" x2="1020" y2="1142" stroke="#222" stroke-width="1.0" />
<path d="M1016.6,1133 L1020,1129.4 L1023.4,1133 L1020,1136.6 Z" fill="#1a1a1a"/>
<line x1="1105.5" y1="1124" x2="1105.5" y2="1142" stroke="#222" stroke-width="1.0" />
<path d="M1102.1,1133 L1105.5,1129.4 L1108.9,1133 L1105.5,1136.6 Z" fill="#1a1a1a"/>
<line x1="1113.3" y1="1124" x2="1113.3" y2="1142" stroke="#222" stroke-width="1.0" />
<path d="M1109.9,1133 L1113.3,1129.4 L1116.7,1133 L1113.3,1136.6 Z" fill="#1a1a1a"/>
<text x="954.2" y="1131" font-size="14.5" text-anchor="middle" fill="#111" >1,50</text>
<text x="1001" y="1131" font-size="14.5" text-anchor="middle" fill="#111" >10</text>
<text x="1062.8" y="1131" font-size="14.5" text-anchor="middle" fill="#111" >1,10</text>
<text x="1093" y="1131" font-size="14.5" text-anchor="middle" fill="#111" >10</text>
<line x1="444.8" y1="1184" x2="1447.1" y2="1184" stroke="#444" stroke-width="1.3" />
<line x1="444.8" y1="1175" x2="444.8" y2="1193" stroke="#222" stroke-width="1.0" />
<path d="M441.4,1184 L444.8,1180.4 L448.2,1184 L444.8,1187.6 Z" fill="#1a1a1a"/>
<line x1="743.9" y1="1175" x2="743.9" y2="1193" stroke="#222" stroke-width="1.0" />
<path d="M740.5,1184 L743.9,1180.4 L747.3,1184 L743.9,1187.6 Z" fill="#1a1a1a"/>
<line x1="821.6" y1="1175" x2="821.6" y2="1193" stroke="#222" stroke-width="1.0" />
<path d="M818.2,1184 L821.6,1180.4 L825,1184 L821.6,1187.6 Z" fill="#1a1a1a"/>
<line x1="872.2" y1="1175" x2="872.2" y2="1193" stroke="#222" stroke-width="1.0" />
<path d="M868.8,1184 L872.2,1180.4 L875.6,1184 L872.2,1187.6 Z" fill="#1a1a1a"/>
<line x1="895.5" y1="1175" x2="895.5" y2="1193" stroke="#222" stroke-width="1.0" />
<path d="M892.1,1184 L895.5,1180.4 L898.9,1184 L895.5,1187.6 Z" fill="#1a1a1a"/>
<line x1="996.5" y1="1175" x2="996.5" y2="1193" stroke="#222" stroke-width="1.0" />
<path d="M993.1,1184 L996.5,1180.4 L999.9,1184 L996.5,1187.6 Z" fill="#1a1a1a"/>
<line x1="1074.2" y1="1175" x2="1074.2" y2="1193" stroke="#222" stroke-width="1.0" />
<path d="M1070.8,1184 L1074.2,1180.4 L1077.6,1184 L1074.2,1187.6 Z" fill="#1a1a1a"/>
<line x1="1447.1" y1="1175" x2="1447.1" y2="1193" stroke="#222" stroke-width="1.0" />
<path d="M1443.7,1184 L1447.1,1180.4 L1450.5,1184 L1447.1,1187.6 Z" fill="#1a1a1a"/>
<text x="594.4" y="1182" font-size="14.5" text-anchor="middle" fill="#111" >3,85</text>
<text x="782.8" y="1182" font-size="14.5" text-anchor="middle" fill="#111" >1,00</text>
<text x="846.9" y="1182" font-size="14.5" text-anchor="middle" fill="#111" >65</text>
<text x="884" y="1182" font-size="14.5" text-anchor="middle" fill="#111" >30</text>
<text x="946" y="1182" font-size="14.5" text-anchor="middle" fill="#111" >1,30</text>
<text x="1035.3" y="1182" font-size="14.5" text-anchor="middle" fill="#111" >1,00</text>
<text x="1260.7" y="1182" font-size="14.5" text-anchor="middle" fill="#111" >4,80</text>
<text x="783" y="1201" font-size="14.5" text-anchor="middle" fill="#111" >pm 180</text>
<line x1="783.3" y1="1150" x2="783.3" y2="1344" stroke="#333" stroke-width="1.0" />
<text x="766.8" y="1329.5" font-size="14.5" text-anchor="middle" fill="#111" transform="rotate(90 766.8 1329.5)" >60</text>
<text x="787.5" y="1329.5" font-size="14.5" text-anchor="middle" fill="#111" transform="rotate(90 787.5 1329.5)" >90</text>
<line x1="1035.4" y1="1188" x2="1035.4" y2="1344" stroke="#333" stroke-width="1.0" />
<text x="1018.9" y="1329.5" font-size="14.5" text-anchor="middle" fill="#111" transform="rotate(90 1018.9 1329.5)" >60</text>
<text x="1039.6" y="1329.5" font-size="14.5" text-anchor="middle" fill="#111" transform="rotate(90 1039.6 1329.5)" >90</text>
<text x="1036" y="1201" font-size="14.5" text-anchor="middle" fill="#111" >pm 180</text>
<line x1="1430" y1="879.4" x2="1587" y2="879.4" stroke="#333" stroke-width="1.0" />
<text x="1557.5" y="873.4" font-size="14.5" text-anchor="middle" fill="#111" >1,50</text>
<text x="1557.5" y="895.4" font-size="14.5" text-anchor="middle" fill="#111" >1,50</text>
<text x="1424" y="879.4" font-size="14.5" text-anchor="middle" fill="#111" transform="rotate(90 1424 879.4)" >pm 90</text>
<line x1="1430" y1="1104.7" x2="1587" y2="1104.7" stroke="#333" stroke-width="1.0" />
<text x="1557.5" y="1098.7" font-size="14.5" text-anchor="middle" fill="#111" >1,50</text>
<text x="1557.5" y="1120.7" font-size="14.5" text-anchor="middle" fill="#111" >1,50</text>
<text x="1424" y="1104.7" font-size="14.5" text-anchor="middle" fill="#111" transform="rotate(90 1424 1104.7)" >pm 90</text>
<line x1="1529.5" y1="720" x2="1529.5" y2="879" stroke="#333" stroke-width="1.0" />
<text x="1514" y="857" font-size="14.5" text-anchor="middle" fill="#111" transform="rotate(90 1514 857)" >2,40</text>
<text x="1533.5" y="863" font-size="14.5" text-anchor="middle" fill="#111" transform="rotate(90 1533.5 863)" >90</text>
<rect x="672" y="977.5" width="25" height="29" fill="#fff" stroke="#111" stroke-width="1.5"/>
<text x="684.5" y="992" font-size="19" text-anchor="middle" dominant-baseline="central" fill="#111" transform="rotate(90 684.5 992)">14</text>
<text x="648.8" y="992" font-size="20.5" text-anchor="middle" font-weight="bold" fill="#111" transform="rotate(90 648.8 992)" >Garázs</text>
<text x="626.5" y="991" font-size="15.5" text-anchor="middle" fill="#111" transform="rotate(90 626.5 991)" >kőporcelán</text>
<text x="607" y="995" font-size="15.5" text-anchor="middle" fill="#111" transform="rotate(90 607 995)" >30,24 m²</text>
<circle cx="534.8" cy="987.6" r="6.5" fill="#fff" stroke="#111" stroke-width="1.3"/>
<path d="M534.8,987.6 L541.3,987.6 A6.5,6.5 0 0 1 534.8,994.1 Z M534.8,987.6 L528.3,987.6 A6.5,6.5 0 0 1 534.8,981.1 Z" fill="#111"/>
<line x1="523.8" y1="987.6" x2="545.8" y2="987.6" stroke="#222" stroke-width="1.0" />
<line x1="534.8" y1="976.6" x2="534.8" y2="998.6" stroke="#222" stroke-width="1.0" />
<text x="549.5" y="1021" font-size="14.5" text-anchor="middle" fill="#111" transform="rotate(90 549.5 1021)" >+0,17</text>
<line x1="352.3" y1="991.9" x2="452.6" y2="991.9" stroke="#333" stroke-width="1.0" />
<text x="389.6" y="986.5" font-size="14.5" text-anchor="middle" fill="#111" >5,10</text>
<text x="389.6" y="1008" font-size="14.5" text-anchor="middle" fill="#111" >2,10</text>
<rect x="444.8" y="794.4" width="4.2" height="395" fill="#fff" stroke="#777" stroke-width="1"/>
<path d="M414.2,795 L414.2,1190" fill="none" stroke="#333" stroke-width="1.3" stroke-dasharray="10 6" stroke-linecap="butt" stroke-linejoin="miter" />
<line x1="496.4" y1="747" x2="496.4" y2="1232.6" stroke="#444" stroke-width="1.3" />
<line x1="487.4" y1="747" x2="505.4" y2="747" stroke="#222" stroke-width="1.0" />
<path d="M493,747 L496.4,743.4 L499.8,747 L496.4,750.6 Z" fill="#1a1a1a"/>
<line x1="487.4" y1="770.3" x2="505.4" y2="770.3" stroke="#222" stroke-width="1.0" />
<path d="M493,770.3 L496.4,766.7 L499.8,770.3 L496.4,773.9 Z" fill="#1a1a1a"/>
<line x1="487.4" y1="789.7" x2="505.4" y2="789.7" stroke="#222" stroke-width="1.0" />
<path d="M493,789.7 L496.4,786.1 L499.8,789.7 L496.4,793.3 Z" fill="#1a1a1a"/>
<line x1="487.4" y1="1193.8" x2="505.4" y2="1193.8" stroke="#222" stroke-width="1.0" />
<path d="M493,1193.8 L496.4,1190.2 L499.8,1193.8 L496.4,1197.4 Z" fill="#1a1a1a"/>
<line x1="487.4" y1="1213.2" x2="505.4" y2="1213.2" stroke="#222" stroke-width="1.0" />
<path d="M493,1213.2 L496.4,1209.6 L499.8,1213.2 L496.4,1216.8 Z" fill="#1a1a1a"/>
<line x1="487.4" y1="1232.6" x2="505.4" y2="1232.6" stroke="#222" stroke-width="1.0" />
<path d="M493,1232.6 L496.4,1229 L499.8,1232.6 L496.4,1236.2 Z" fill="#1a1a1a"/>
<text x="499.4" y="758.7" font-size="14.5" text-anchor="middle" fill="#111" transform="rotate(90 499.4 758.7)" >30</text>
<text x="499.4" y="782.3" font-size="14.5" text-anchor="middle" fill="#111" transform="rotate(90 499.4 782.3)" >25</text>
<text x="499.4" y="991.8" font-size="14.5" text-anchor="middle" fill="#111" transform="rotate(90 499.4 991.8)" >5,20</text>
<text x="499.4" y="1203.5" font-size="14.5" text-anchor="middle" fill="#111" transform="rotate(90 499.4 1203.5)" >25</text>
<text x="499.4" y="1222.9" font-size="14.5" text-anchor="middle" fill="#111" transform="rotate(90 499.4 1222.9)" >25</text>
<text x="847" y="890" font-size="14.5" text-anchor="middle" fill="#111" transform="rotate(90 847 890)" >turbó gázkazán</text>
<path d="M848,826 L848,790 L897,790" fill="none" stroke="#555" stroke-width="1.0" stroke-linecap="butt" stroke-linejoin="miter" />
<path d="M177,525.4 L895.7,525.4" fill="none" stroke="#000" stroke-width="3.2" stroke-dasharray="26 5 5 5" stroke-linecap="butt" stroke-linejoin="miter" />
<path d="M895.7,390.2 L1590,390.2" fill="none" stroke="#000" stroke-width="3.2" stroke-dasharray="26 5 5 5" stroke-linecap="butt" stroke-linejoin="miter" />
<path d="M895.7,483 L895.7,527" fill="none" stroke="#000" stroke-width="3.0" stroke-linecap="butt" stroke-linejoin="miter" />
<path d="M1590,390.2 L1672,390.2" fill="none" stroke="#000" stroke-width="3.0" stroke-linecap="butt" stroke-linejoin="miter" />
<path d="M177,525.4 L200,525.4" fill="none" stroke="#000" stroke-width="3.2" stroke-linecap="butt" stroke-linejoin="miter" />
<path d="M666.4,196 L666.4,240" fill="none" stroke="#000" stroke-width="3.0" stroke-linecap="butt" stroke-linejoin="miter" />
<path d="M666.4,240 L666.4,1320" fill="none" stroke="#000" stroke-width="3.0" stroke-dasharray="21 6 6 6" stroke-linecap="butt" stroke-linejoin="miter" />
<path d="M665.5,155.7 L687,176.2 L665.5,196.7 Z" fill="#111"/>
<circle cx="665.5" cy="176.2" r="12.5" fill="#fff" stroke="#000" stroke-width="2.6"/>
<text x="665.5" y="176.2" font-size="20" text-anchor="middle" fill="#111" transform="rotate(90 665.5 176.2)" dominant-baseline="central">A</text>
<path d="M665.6,1319.3 L687.1,1339.8 L665.6,1360.3 Z" fill="#111"/>
<circle cx="665.6" cy="1339.8" r="12.5" fill="#fff" stroke="#000" stroke-width="2.6"/>
<text x="665.6" y="1339.8" font-size="20" text-anchor="middle" fill="#111" transform="rotate(90 665.6 1339.8)" dominant-baseline="central">A</text>
<path d="M137.1,524.6 L157.6,546.1 L178.1,524.6 Z" fill="#111"/>
<circle cx="157.6" cy="524.6" r="12.5" fill="#fff" stroke="#000" stroke-width="2.6"/>
<text x="157.6" y="524.6" font-size="20" text-anchor="middle" fill="#111" transform="rotate(90 157.6 524.6)" dominant-baseline="central">B</text>
<path d="M1671.5,389.8 L1692,411.3 L1712.5,389.8 Z" fill="#111"/>
<circle cx="1692" cy="389.8" r="12.5" fill="#fff" stroke="#000" stroke-width="2.6"/>
<text x="1692" y="389.8" font-size="20" text-anchor="middle" fill="#111" transform="rotate(90 1692 389.8)" dominant-baseline="central">B</text>
<rect x="1470" y="1356" width="155" height="100" fill="#fff" fill-opacity="0.5"/>
</svg>
</body></html>
